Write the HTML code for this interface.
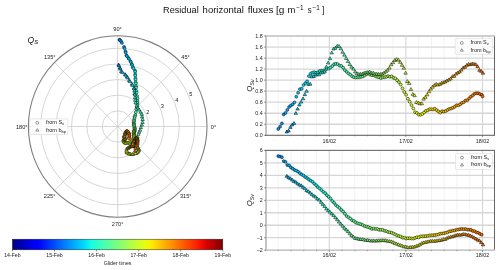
<!DOCTYPE html>
<html><head><meta charset="utf-8"><style>html,body{margin:0;padding:0;background:#fff;overflow:hidden;}svg{display:block;}</style></head><body><div style="will-change:transform">
<svg width="500" height="270" viewBox="0 0 500 270" font-family='"Liberation Sans", sans-serif'>
<rect width="500" height="270" fill="#fff"/>
<text x="163.0" y="13.0" font-size="9.5" fill="#111" textLength="35.7" lengthAdjust="spacingAndGlyphs">Residual</text>
<text x="202.6" y="13.0" font-size="9.5" fill="#111" textLength="41.3" lengthAdjust="spacingAndGlyphs">horizontal</text>
<text x="247.7" y="13.0" font-size="9.5" fill="#111" textLength="25.8" lengthAdjust="spacingAndGlyphs">fluxes</text>
<text x="275.9" y="13.0" font-size="9.5" fill="#111" textLength="8.4" lengthAdjust="spacingAndGlyphs">[g</text>
<text x="287.4" y="13.0" font-size="9.5" fill="#111" textLength="7.9" lengthAdjust="spacingAndGlyphs">m</text>
<text x="307.7" y="13.0" font-size="9.5" fill="#111" textLength="3.9" lengthAdjust="spacingAndGlyphs">s</text>
<text x="321.9" y="13.0" font-size="9.5" fill="#111" textLength="2.3" lengthAdjust="spacingAndGlyphs">]</text>
<text x="296.3" y="9.6" font-size="6.6" fill="#111" textLength="7.3" lengthAdjust="spacingAndGlyphs">−1</text>
<text x="312.5" y="9.6" font-size="6.6" fill="#111" textLength="7.3" lengthAdjust="spacingAndGlyphs">−1</text>
<g transform="translate(117.7,126.5) scale(1,1.0162)">
<circle cx="0" cy="0" r="15.40" fill="none" stroke="#c8c8c8" stroke-width="0.75"/>
<circle cx="0" cy="0" r="30.80" fill="none" stroke="#c8c8c8" stroke-width="0.75"/>
<circle cx="0" cy="0" r="46.20" fill="none" stroke="#c8c8c8" stroke-width="0.75"/>
<circle cx="0" cy="0" r="61.60" fill="none" stroke="#c8c8c8" stroke-width="0.75"/>
<circle cx="0" cy="0" r="77.00" fill="none" stroke="#c8c8c8" stroke-width="0.75"/>
<line x1="0" y1="0" x2="89.30" y2="-0.00" stroke="#c8c8c8" stroke-width="0.75"/>
<line x1="0" y1="0" x2="63.14" y2="-63.14" stroke="#c8c8c8" stroke-width="0.75"/>
<line x1="0" y1="0" x2="0.00" y2="-89.30" stroke="#c8c8c8" stroke-width="0.75"/>
<line x1="0" y1="0" x2="-63.14" y2="-63.14" stroke="#c8c8c8" stroke-width="0.75"/>
<line x1="0" y1="0" x2="-89.30" y2="-0.00" stroke="#c8c8c8" stroke-width="0.75"/>
<line x1="0" y1="0" x2="-63.14" y2="63.14" stroke="#c8c8c8" stroke-width="0.75"/>
<line x1="0" y1="0" x2="-0.00" y2="89.30" stroke="#c8c8c8" stroke-width="0.75"/>
<line x1="0" y1="0" x2="63.14" y2="63.14" stroke="#c8c8c8" stroke-width="0.75"/>
<circle cx="0" cy="0" r="89.3" fill="none" stroke="#7e7e7e" stroke-width="1.1"/>
</g>
<text x="117.6" y="31.0" font-size="5.6" fill="#222" text-anchor="middle">90°</text>
<text x="185.5" y="59.3" font-size="5.6" fill="#222" text-anchor="middle">45°</text>
<text x="49.7" y="59.4" font-size="5.6" fill="#222" text-anchor="middle">135°</text>
<text x="21.7" y="128.6" font-size="5.6" fill="#222" text-anchor="middle">180°</text>
<text x="213.5" y="128.6" font-size="5.6" fill="#222" text-anchor="middle">0°</text>
<text x="49.6" y="197.7" font-size="5.6" fill="#222" text-anchor="middle">225°</text>
<text x="117.6" y="226.0" font-size="5.6" fill="#222" text-anchor="middle">270°</text>
<text x="185.7" y="197.8" font-size="5.6" fill="#222" text-anchor="middle">315°</text>
<text x="133.5" y="119.5" font-size="5.6" fill="#222" text-anchor="middle">1</text>
<text x="147.8" y="113.7" font-size="5.6" fill="#222" text-anchor="middle">2</text>
<text x="162.3" y="107.9" font-size="5.6" fill="#222" text-anchor="middle">3</text>
<text x="176.7" y="102.1" font-size="5.6" fill="#222" text-anchor="middle">4</text>
<text x="190.8" y="96.0" font-size="5.6" fill="#222" text-anchor="middle">5</text>
<text x="27.6" y="42.6" font-size="8.6" font-style="italic" fill="#111">Q<tspan font-size="6" dy="1.5">S</tspan></text>
<circle cx="119.46" cy="39.76" r="1.45" fill="#0091ff" stroke="#000" stroke-opacity="0.95" stroke-width="0.55"/>
<circle cx="119.93" cy="40.19" r="1.45" fill="#0095ff" stroke="#000" stroke-opacity="0.95" stroke-width="0.55"/>
<circle cx="121.03" cy="41.20" r="1.45" fill="#009aff" stroke="#000" stroke-opacity="0.95" stroke-width="0.55"/>
<circle cx="121.93" cy="42.92" r="1.45" fill="#009fff" stroke="#000" stroke-opacity="0.95" stroke-width="0.55"/>
<circle cx="124.04" cy="46.95" r="1.45" fill="#00a4ff" stroke="#000" stroke-opacity="0.95" stroke-width="0.55"/>
<circle cx="124.47" cy="48.29" r="1.45" fill="#00a9ff" stroke="#000" stroke-opacity="0.95" stroke-width="0.55"/>
<circle cx="125.47" cy="51.41" r="1.45" fill="#00adff" stroke="#000" stroke-opacity="0.95" stroke-width="0.55"/>
<circle cx="125.74" cy="52.61" r="1.45" fill="#00b2ff" stroke="#000" stroke-opacity="0.95" stroke-width="0.55"/>
<circle cx="126.38" cy="55.40" r="1.45" fill="#00b7ff" stroke="#000" stroke-opacity="0.95" stroke-width="0.55"/>
<circle cx="126.98" cy="56.17" r="1.45" fill="#00bcff" stroke="#000" stroke-opacity="0.95" stroke-width="0.55"/>
<circle cx="128.37" cy="57.96" r="1.45" fill="#00c1ff" stroke="#000" stroke-opacity="0.95" stroke-width="0.55"/>
<circle cx="129.00" cy="58.92" r="1.45" fill="#00c5ff" stroke="#000" stroke-opacity="0.95" stroke-width="0.55"/>
<circle cx="130.47" cy="61.15" r="1.45" fill="#00caff" stroke="#000" stroke-opacity="0.95" stroke-width="0.55"/>
<circle cx="130.88" cy="62.05" r="1.45" fill="#00cfff" stroke="#000" stroke-opacity="0.95" stroke-width="0.55"/>
<circle cx="131.83" cy="64.16" r="1.45" fill="#00d4ff" stroke="#000" stroke-opacity="0.95" stroke-width="0.55"/>
<circle cx="132.12" cy="65.10" r="1.45" fill="#00d9ff" stroke="#000" stroke-opacity="0.95" stroke-width="0.55"/>
<circle cx="132.77" cy="67.29" r="1.45" fill="#00ddfd" stroke="#000" stroke-opacity="0.95" stroke-width="0.55"/>
<circle cx="133.46" cy="68.29" r="1.45" fill="#00e2f9" stroke="#000" stroke-opacity="0.95" stroke-width="0.55"/>
<circle cx="135.05" cy="70.61" r="1.45" fill="#01e7f6" stroke="#000" stroke-opacity="0.95" stroke-width="0.55"/>
<circle cx="135.10" cy="71.76" r="1.45" fill="#05ecf2" stroke="#000" stroke-opacity="0.95" stroke-width="0.55"/>
<circle cx="135.20" cy="74.45" r="1.45" fill="#09f1ee" stroke="#000" stroke-opacity="0.95" stroke-width="0.55"/>
<circle cx="135.26" cy="75.68" r="1.45" fill="#0df5ea" stroke="#000" stroke-opacity="0.95" stroke-width="0.55"/>
<circle cx="135.41" cy="78.56" r="1.45" fill="#11fae6" stroke="#000" stroke-opacity="0.95" stroke-width="0.55"/>
<circle cx="135.50" cy="79.70" r="1.45" fill="#15ffe2" stroke="#000" stroke-opacity="0.95" stroke-width="0.55"/>
<circle cx="135.69" cy="82.35" r="1.45" fill="#18ffde" stroke="#000" stroke-opacity="0.95" stroke-width="0.55"/>
<circle cx="135.77" cy="83.51" r="1.45" fill="#1cffdb" stroke="#000" stroke-opacity="0.95" stroke-width="0.55"/>
<circle cx="135.96" cy="86.21" r="1.45" fill="#20ffd7" stroke="#000" stroke-opacity="0.95" stroke-width="0.55"/>
<circle cx="136.09" cy="87.63" r="1.45" fill="#24ffd3" stroke="#000" stroke-opacity="0.95" stroke-width="0.55"/>
<circle cx="136.38" cy="90.93" r="1.45" fill="#28ffcf" stroke="#000" stroke-opacity="0.95" stroke-width="0.55"/>
<circle cx="136.58" cy="92.48" r="1.45" fill="#2cffcb" stroke="#000" stroke-opacity="0.95" stroke-width="0.55"/>
<circle cx="137.04" cy="96.10" r="1.45" fill="#30ffc7" stroke="#000" stroke-opacity="0.95" stroke-width="0.55"/>
<circle cx="137.41" cy="98.48" r="1.45" fill="#33ffc3" stroke="#000" stroke-opacity="0.95" stroke-width="0.55"/>
<circle cx="137.49" cy="101.25" r="1.45" fill="#37ffbf" stroke="#000" stroke-opacity="0.95" stroke-width="0.55"/>
<circle cx="137.49" cy="103.04" r="1.45" fill="#3bffbc" stroke="#000" stroke-opacity="0.95" stroke-width="0.55"/>
<circle cx="137.25" cy="104.82" r="1.45" fill="#3fffb8" stroke="#000" stroke-opacity="0.95" stroke-width="0.55"/>
<circle cx="136.91" cy="107.32" r="1.45" fill="#43ffb4" stroke="#000" stroke-opacity="0.95" stroke-width="0.55"/>
<circle cx="136.40" cy="109.25" r="1.45" fill="#47ffb0" stroke="#000" stroke-opacity="0.95" stroke-width="0.55"/>
<circle cx="135.84" cy="112.14" r="1.45" fill="#4bffac" stroke="#000" stroke-opacity="0.95" stroke-width="0.55"/>
<circle cx="135.26" cy="115.10" r="1.45" fill="#4effa8" stroke="#000" stroke-opacity="0.95" stroke-width="0.55"/>
<circle cx="134.85" cy="116.52" r="1.45" fill="#52ffa4" stroke="#000" stroke-opacity="0.95" stroke-width="0.55"/>
<circle cx="134.46" cy="118.21" r="1.45" fill="#56ffa1" stroke="#000" stroke-opacity="0.95" stroke-width="0.55"/>
<circle cx="134.20" cy="120.27" r="1.45" fill="#5aff9d" stroke="#000" stroke-opacity="0.95" stroke-width="0.55"/>
<circle cx="133.98" cy="121.20" r="1.45" fill="#5eff99" stroke="#000" stroke-opacity="0.95" stroke-width="0.55"/>
<circle cx="133.81" cy="122.97" r="1.45" fill="#62ff95" stroke="#000" stroke-opacity="0.95" stroke-width="0.55"/>
<circle cx="133.76" cy="123.93" r="1.45" fill="#66ff91" stroke="#000" stroke-opacity="0.95" stroke-width="0.55"/>
<circle cx="133.83" cy="124.59" r="1.45" fill="#6aff8d" stroke="#000" stroke-opacity="0.95" stroke-width="0.55"/>
<circle cx="134.03" cy="125.29" r="1.45" fill="#6dff89" stroke="#000" stroke-opacity="0.95" stroke-width="0.55"/>
<circle cx="134.30" cy="126.32" r="1.45" fill="#71ff85" stroke="#000" stroke-opacity="0.95" stroke-width="0.55"/>
<circle cx="134.55" cy="127.75" r="1.45" fill="#75ff82" stroke="#000" stroke-opacity="0.95" stroke-width="0.55"/>
<circle cx="134.68" cy="128.17" r="1.45" fill="#79ff7e" stroke="#000" stroke-opacity="0.95" stroke-width="0.55"/>
<circle cx="134.80" cy="128.83" r="1.45" fill="#7dff7a" stroke="#000" stroke-opacity="0.95" stroke-width="0.55"/>
<circle cx="134.76" cy="129.78" r="1.45" fill="#81ff76" stroke="#000" stroke-opacity="0.95" stroke-width="0.55"/>
<circle cx="134.63" cy="131.08" r="1.45" fill="#85ff72" stroke="#000" stroke-opacity="0.95" stroke-width="0.55"/>
<circle cx="134.49" cy="130.68" r="1.45" fill="#88ff6e" stroke="#000" stroke-opacity="0.95" stroke-width="0.55"/>
<circle cx="134.30" cy="131.26" r="1.45" fill="#8cff6a" stroke="#000" stroke-opacity="0.95" stroke-width="0.55"/>
<circle cx="134.11" cy="131.11" r="1.45" fill="#90ff67" stroke="#000" stroke-opacity="0.95" stroke-width="0.55"/>
<circle cx="133.95" cy="132.16" r="1.45" fill="#94ff63" stroke="#000" stroke-opacity="0.95" stroke-width="0.55"/>
<circle cx="133.80" cy="132.25" r="1.45" fill="#98ff5f" stroke="#000" stroke-opacity="0.95" stroke-width="0.55"/>
<circle cx="133.72" cy="132.31" r="1.45" fill="#9cff5b" stroke="#000" stroke-opacity="0.95" stroke-width="0.55"/>
<circle cx="133.83" cy="133.50" r="1.45" fill="#a0ff57" stroke="#000" stroke-opacity="0.95" stroke-width="0.55"/>
<circle cx="133.94" cy="133.83" r="1.45" fill="#a4ff53" stroke="#000" stroke-opacity="0.95" stroke-width="0.55"/>
<circle cx="134.10" cy="134.87" r="1.45" fill="#a7ff4f" stroke="#000" stroke-opacity="0.95" stroke-width="0.55"/>
<circle cx="134.18" cy="135.48" r="1.45" fill="#abff4b" stroke="#000" stroke-opacity="0.95" stroke-width="0.55"/>
<circle cx="134.02" cy="135.91" r="1.45" fill="#afff48" stroke="#000" stroke-opacity="0.95" stroke-width="0.55"/>
<circle cx="133.79" cy="136.96" r="1.45" fill="#b3ff44" stroke="#000" stroke-opacity="0.95" stroke-width="0.55"/>
<circle cx="133.45" cy="138.08" r="1.45" fill="#b7ff40" stroke="#000" stroke-opacity="0.95" stroke-width="0.55"/>
<circle cx="133.03" cy="139.19" r="1.45" fill="#bbff3c" stroke="#000" stroke-opacity="0.95" stroke-width="0.55"/>
<circle cx="132.52" cy="140.00" r="1.45" fill="#bfff38" stroke="#000" stroke-opacity="0.95" stroke-width="0.55"/>
<circle cx="131.75" cy="140.70" r="1.45" fill="#c2ff34" stroke="#000" stroke-opacity="0.95" stroke-width="0.55"/>
<circle cx="130.82" cy="142.09" r="1.45" fill="#c6ff30" stroke="#000" stroke-opacity="0.95" stroke-width="0.55"/>
<circle cx="129.79" cy="142.15" r="1.45" fill="#caff2d" stroke="#000" stroke-opacity="0.95" stroke-width="0.55"/>
<circle cx="128.95" cy="143.13" r="1.45" fill="#ceff29" stroke="#000" stroke-opacity="0.95" stroke-width="0.55"/>
<circle cx="127.97" cy="142.78" r="1.45" fill="#d2ff25" stroke="#000" stroke-opacity="0.95" stroke-width="0.55"/>
<circle cx="126.95" cy="142.79" r="1.45" fill="#d6ff21" stroke="#000" stroke-opacity="0.95" stroke-width="0.55"/>
<circle cx="126.01" cy="143.15" r="1.45" fill="#daff1d" stroke="#000" stroke-opacity="0.95" stroke-width="0.55"/>
<circle cx="125.15" cy="143.22" r="1.45" fill="#deff19" stroke="#000" stroke-opacity="0.95" stroke-width="0.55"/>
<circle cx="124.12" cy="142.48" r="1.45" fill="#e1ff15" stroke="#000" stroke-opacity="0.95" stroke-width="0.55"/>
<circle cx="123.83" cy="141.53" r="1.45" fill="#e5ff12" stroke="#000" stroke-opacity="0.95" stroke-width="0.55"/>
<circle cx="123.62" cy="141.67" r="1.45" fill="#e9ff0e" stroke="#000" stroke-opacity="0.95" stroke-width="0.55"/>
<circle cx="123.53" cy="140.44" r="1.45" fill="#edff0a" stroke="#000" stroke-opacity="0.95" stroke-width="0.55"/>
<circle cx="123.53" cy="140.38" r="1.45" fill="#f1fc06" stroke="#000" stroke-opacity="0.95" stroke-width="0.55"/>
<circle cx="124.04" cy="140.19" r="1.45" fill="#f5f802" stroke="#000" stroke-opacity="0.95" stroke-width="0.55"/>
<circle cx="124.41" cy="140.14" r="1.45" fill="#f9f300" stroke="#000" stroke-opacity="0.95" stroke-width="0.55"/>
<circle cx="124.66" cy="139.78" r="1.45" fill="#fcef00" stroke="#000" stroke-opacity="0.95" stroke-width="0.55"/>
<circle cx="124.90" cy="139.35" r="1.45" fill="#ffeb00" stroke="#000" stroke-opacity="0.95" stroke-width="0.55"/>
<circle cx="124.98" cy="138.94" r="1.45" fill="#ffe600" stroke="#000" stroke-opacity="0.95" stroke-width="0.55"/>
<circle cx="125.06" cy="139.02" r="1.45" fill="#ffe200" stroke="#000" stroke-opacity="0.95" stroke-width="0.55"/>
<circle cx="125.09" cy="138.79" r="1.45" fill="#ffdd00" stroke="#000" stroke-opacity="0.95" stroke-width="0.55"/>
<circle cx="124.76" cy="138.48" r="1.45" fill="#ffd900" stroke="#000" stroke-opacity="0.95" stroke-width="0.55"/>
<circle cx="124.39" cy="137.97" r="1.45" fill="#ffd400" stroke="#000" stroke-opacity="0.95" stroke-width="0.55"/>
<circle cx="124.09" cy="137.11" r="1.45" fill="#ffd000" stroke="#000" stroke-opacity="0.95" stroke-width="0.55"/>
<circle cx="124.26" cy="136.86" r="1.45" fill="#ffcc00" stroke="#000" stroke-opacity="0.95" stroke-width="0.55"/>
<circle cx="124.43" cy="136.61" r="1.45" fill="#ffc700" stroke="#000" stroke-opacity="0.95" stroke-width="0.55"/>
<circle cx="124.61" cy="135.89" r="1.45" fill="#ffc300" stroke="#000" stroke-opacity="0.95" stroke-width="0.55"/>
<circle cx="124.80" cy="135.39" r="1.45" fill="#ffbe00" stroke="#000" stroke-opacity="0.95" stroke-width="0.55"/>
<circle cx="125.00" cy="134.19" r="1.45" fill="#ffba00" stroke="#000" stroke-opacity="0.95" stroke-width="0.55"/>
<circle cx="125.21" cy="133.92" r="1.45" fill="#ffb500" stroke="#000" stroke-opacity="0.95" stroke-width="0.55"/>
<circle cx="125.46" cy="133.22" r="1.45" fill="#ffb100" stroke="#000" stroke-opacity="0.95" stroke-width="0.55"/>
<circle cx="125.71" cy="133.04" r="1.45" fill="#ffac00" stroke="#000" stroke-opacity="0.95" stroke-width="0.55"/>
<circle cx="125.96" cy="132.13" r="1.45" fill="#ffa800" stroke="#000" stroke-opacity="0.95" stroke-width="0.55"/>
<circle cx="126.21" cy="131.90" r="1.45" fill="#ffa400" stroke="#000" stroke-opacity="0.95" stroke-width="0.55"/>
<circle cx="126.47" cy="131.35" r="1.45" fill="#ff9f00" stroke="#000" stroke-opacity="0.95" stroke-width="0.55"/>
<circle cx="126.72" cy="131.17" r="1.45" fill="#ff9b00" stroke="#000" stroke-opacity="0.95" stroke-width="0.55"/>
<circle cx="126.96" cy="131.45" r="1.45" fill="#ff9600" stroke="#000" stroke-opacity="0.95" stroke-width="0.55"/>
<circle cx="127.25" cy="131.22" r="1.45" fill="#ff9200" stroke="#000" stroke-opacity="0.95" stroke-width="0.55"/>
<circle cx="127.68" cy="132.00" r="1.45" fill="#ff8d00" stroke="#000" stroke-opacity="0.95" stroke-width="0.55"/>
<circle cx="128.10" cy="132.06" r="1.45" fill="#ff8900" stroke="#000" stroke-opacity="0.95" stroke-width="0.55"/>
<circle cx="128.51" cy="132.28" r="1.45" fill="#ff8400" stroke="#000" stroke-opacity="0.95" stroke-width="0.55"/>
<circle cx="128.92" cy="133.67" r="1.45" fill="#ff8000" stroke="#000" stroke-opacity="0.95" stroke-width="0.55"/>
<circle cx="129.18" cy="133.94" r="1.45" fill="#ff7c00" stroke="#000" stroke-opacity="0.95" stroke-width="0.55"/>
<circle cx="129.38" cy="135.38" r="1.45" fill="#ff7700" stroke="#000" stroke-opacity="0.95" stroke-width="0.55"/>
<circle cx="129.37" cy="135.78" r="1.45" fill="#ff7300" stroke="#000" stroke-opacity="0.95" stroke-width="0.55"/>
<circle cx="129.24" cy="137.30" r="1.45" fill="#ff6e00" stroke="#000" stroke-opacity="0.95" stroke-width="0.55"/>
<circle cx="128.86" cy="138.40" r="1.45" fill="#ff6a00" stroke="#000" stroke-opacity="0.95" stroke-width="0.55"/>
<polygon points="118.54,63.05 120.25,65.96 116.83,65.96" fill="#00a7ff" stroke="#000" stroke-opacity="0.95" stroke-width="0.55"/>
<polygon points="118.95,63.96 120.66,66.88 117.24,66.88" fill="#00acff" stroke="#000" stroke-opacity="0.95" stroke-width="0.55"/>
<polygon points="119.92,66.10 121.63,69.02 118.21,69.02" fill="#00b1ff" stroke="#000" stroke-opacity="0.95" stroke-width="0.55"/>
<polygon points="120.31,67.17 122.02,70.08 118.60,70.08" fill="#00b6ff" stroke="#000" stroke-opacity="0.95" stroke-width="0.55"/>
<polygon points="121.22,69.65 122.93,72.57 119.51,72.57" fill="#00baff" stroke="#000" stroke-opacity="0.95" stroke-width="0.55"/>
<polygon points="122.37,70.53 124.08,73.44 120.66,73.44" fill="#00bfff" stroke="#000" stroke-opacity="0.95" stroke-width="0.55"/>
<polygon points="125.05,72.57 126.76,75.48 123.34,75.48" fill="#00c4ff" stroke="#000" stroke-opacity="0.95" stroke-width="0.55"/>
<polygon points="125.61,73.29 127.32,76.21 123.90,76.21" fill="#00c9ff" stroke="#000" stroke-opacity="0.95" stroke-width="0.55"/>
<polygon points="126.92,74.98 128.63,77.89 125.21,77.89" fill="#00ceff" stroke="#000" stroke-opacity="0.95" stroke-width="0.55"/>
<polygon points="127.59,76.05 129.30,78.97 125.88,78.97" fill="#00d2ff" stroke="#000" stroke-opacity="0.95" stroke-width="0.55"/>
<polygon points="129.14,78.56 130.85,81.48 127.43,81.48" fill="#00d7ff" stroke="#000" stroke-opacity="0.95" stroke-width="0.55"/>
<polygon points="129.97,79.69 131.68,82.60 128.26,82.60" fill="#00dcfe" stroke="#000" stroke-opacity="0.95" stroke-width="0.55"/>
<polygon points="131.88,82.32 133.59,85.24 130.17,85.24" fill="#00e1fb" stroke="#000" stroke-opacity="0.95" stroke-width="0.55"/>
<polygon points="132.51,83.48 134.22,86.39 130.80,86.39" fill="#00e6f7" stroke="#000" stroke-opacity="0.95" stroke-width="0.55"/>
<polygon points="133.96,86.17 135.67,89.08 132.25,89.08" fill="#04eaf3" stroke="#000" stroke-opacity="0.95" stroke-width="0.55"/>
<polygon points="134.12,87.08 135.83,90.00 132.41,90.00" fill="#08efef" stroke="#000" stroke-opacity="0.95" stroke-width="0.55"/>
<polygon points="134.47,89.21 136.18,92.12 132.76,92.12" fill="#0cf4eb" stroke="#000" stroke-opacity="0.95" stroke-width="0.55"/>
<polygon points="134.62,91.60 136.33,94.52 132.91,94.52" fill="#10f9e7" stroke="#000" stroke-opacity="0.95" stroke-width="0.55"/>
<polygon points="134.81,93.01 136.52,95.92 133.10,95.92" fill="#13fee3" stroke="#000" stroke-opacity="0.95" stroke-width="0.55"/>
<polygon points="135.01,95.83 136.72,98.74 133.30,98.74" fill="#17ffdf" stroke="#000" stroke-opacity="0.95" stroke-width="0.55"/>
<polygon points="135.22,98.42 136.93,101.33 133.51,101.33" fill="#1bffdc" stroke="#000" stroke-opacity="0.95" stroke-width="0.55"/>
<polygon points="135.58,100.99 137.29,103.90 133.87,103.90" fill="#1fffd8" stroke="#000" stroke-opacity="0.95" stroke-width="0.55"/>
<polygon points="136.74,104.06 138.45,106.98 135.03,106.98" fill="#23ffd4" stroke="#000" stroke-opacity="0.95" stroke-width="0.55"/>
<polygon points="137.94,106.15 139.65,109.07 136.23,109.07" fill="#27ffd0" stroke="#000" stroke-opacity="0.95" stroke-width="0.55"/>
<polygon points="139.25,108.10 140.96,111.02 137.54,111.02" fill="#2bffcc" stroke="#000" stroke-opacity="0.95" stroke-width="0.55"/>
<polygon points="140.60,110.33 142.31,113.25 138.89,113.25" fill="#2effc8" stroke="#000" stroke-opacity="0.95" stroke-width="0.55"/>
<polygon points="141.84,112.39 143.55,115.30 140.13,115.30" fill="#32ffc4" stroke="#000" stroke-opacity="0.95" stroke-width="0.55"/>
<polygon points="142.12,115.02 143.83,117.94 140.41,117.94" fill="#36ffc1" stroke="#000" stroke-opacity="0.95" stroke-width="0.55"/>
<polygon points="142.63,117.61 144.34,120.53 140.92,120.53" fill="#3affbd" stroke="#000" stroke-opacity="0.95" stroke-width="0.55"/>
<polygon points="142.56,120.56 144.27,123.47 140.85,123.47" fill="#3effb9" stroke="#000" stroke-opacity="0.95" stroke-width="0.55"/>
<polygon points="141.79,123.11 143.50,126.02 140.08,126.02" fill="#42ffb5" stroke="#000" stroke-opacity="0.95" stroke-width="0.55"/>
<polygon points="140.92,125.73 142.63,128.64 139.21,128.64" fill="#46ffb1" stroke="#000" stroke-opacity="0.95" stroke-width="0.55"/>
<polygon points="140.07,128.36 141.78,131.27 138.36,131.27" fill="#4affad" stroke="#000" stroke-opacity="0.95" stroke-width="0.55"/>
<polygon points="139.18,130.42 140.89,133.34 137.47,133.34" fill="#4dffa9" stroke="#000" stroke-opacity="0.95" stroke-width="0.55"/>
<polygon points="138.30,132.42 140.01,135.33 136.59,135.33" fill="#51ffa5" stroke="#000" stroke-opacity="0.95" stroke-width="0.55"/>
<polygon points="137.57,135.20 139.28,138.11 135.86,138.11" fill="#55ffa2" stroke="#000" stroke-opacity="0.95" stroke-width="0.55"/>
<polygon points="136.85,137.48 138.56,140.39 135.14,140.39" fill="#59ff9e" stroke="#000" stroke-opacity="0.95" stroke-width="0.55"/>
<polygon points="136.15,139.29 137.86,142.21 134.44,142.21" fill="#5dff9a" stroke="#000" stroke-opacity="0.95" stroke-width="0.55"/>
<polygon points="135.45,141.12 137.16,144.03 133.74,144.03" fill="#61ff96" stroke="#000" stroke-opacity="0.95" stroke-width="0.55"/>
<polygon points="134.85,141.39 136.56,144.31 133.14,144.31" fill="#65ff92" stroke="#000" stroke-opacity="0.95" stroke-width="0.55"/>
<polygon points="134.74,142.08 136.45,144.99 133.03,144.99" fill="#68ff8e" stroke="#000" stroke-opacity="0.95" stroke-width="0.55"/>
<polygon points="134.72,142.42 136.43,145.34 133.01,145.34" fill="#6cff8a" stroke="#000" stroke-opacity="0.95" stroke-width="0.55"/>
<polygon points="134.87,142.49 136.58,145.40 133.16,145.40" fill="#70ff87" stroke="#000" stroke-opacity="0.95" stroke-width="0.55"/>
<polygon points="135.02,142.96 136.73,145.88 133.31,145.88" fill="#74ff83" stroke="#000" stroke-opacity="0.95" stroke-width="0.55"/>
<polygon points="135.18,143.62 136.89,146.54 133.47,146.54" fill="#78ff7f" stroke="#000" stroke-opacity="0.95" stroke-width="0.55"/>
<polygon points="135.35,143.43 137.06,146.35 133.64,146.35" fill="#7cff7b" stroke="#000" stroke-opacity="0.95" stroke-width="0.55"/>
<polygon points="135.38,143.99 137.09,146.91 133.67,146.91" fill="#80ff77" stroke="#000" stroke-opacity="0.95" stroke-width="0.55"/>
<polygon points="135.20,144.37 136.91,147.29 133.49,147.29" fill="#84ff73" stroke="#000" stroke-opacity="0.95" stroke-width="0.55"/>
<polygon points="135.02,144.05 136.73,146.97 133.31,146.97" fill="#87ff6f" stroke="#000" stroke-opacity="0.95" stroke-width="0.55"/>
<polygon points="134.89,144.45 136.60,147.37 133.18,147.37" fill="#8bff6b" stroke="#000" stroke-opacity="0.95" stroke-width="0.55"/>
<polygon points="134.77,144.10 136.48,147.02 133.06,147.02" fill="#8fff68" stroke="#000" stroke-opacity="0.95" stroke-width="0.55"/>
<polygon points="134.73,143.93 136.44,146.85 133.02,146.85" fill="#93ff64" stroke="#000" stroke-opacity="0.95" stroke-width="0.55"/>
<polygon points="134.78,144.02 136.49,146.93 133.07,146.93" fill="#97ff60" stroke="#000" stroke-opacity="0.95" stroke-width="0.55"/>
<polygon points="134.84,143.72 136.55,146.64 133.13,146.64" fill="#9bff5c" stroke="#000" stroke-opacity="0.95" stroke-width="0.55"/>
<polygon points="135.07,143.87 136.78,146.78 133.36,146.78" fill="#9fff58" stroke="#000" stroke-opacity="0.95" stroke-width="0.55"/>
<polygon points="135.31,143.82 137.02,146.73 133.60,146.73" fill="#a2ff54" stroke="#000" stroke-opacity="0.95" stroke-width="0.55"/>
<polygon points="135.77,144.59 137.48,147.51 134.06,147.51" fill="#a6ff50" stroke="#000" stroke-opacity="0.95" stroke-width="0.55"/>
<polygon points="136.57,144.85 138.28,147.76 134.86,147.76" fill="#aaff4d" stroke="#000" stroke-opacity="0.95" stroke-width="0.55"/>
<polygon points="137.44,145.24 139.15,148.16 135.73,148.16" fill="#aeff49" stroke="#000" stroke-opacity="0.95" stroke-width="0.55"/>
<polygon points="138.09,146.14 139.80,149.05 136.38,149.05" fill="#b2ff45" stroke="#000" stroke-opacity="0.95" stroke-width="0.55"/>
<polygon points="138.79,147.33 140.50,150.24 137.08,150.24" fill="#b6ff41" stroke="#000" stroke-opacity="0.95" stroke-width="0.55"/>
<polygon points="138.94,148.16 140.65,151.08 137.23,151.08" fill="#baff3d" stroke="#000" stroke-opacity="0.95" stroke-width="0.55"/>
<polygon points="138.54,148.94 140.25,151.85 136.83,151.85" fill="#beff39" stroke="#000" stroke-opacity="0.95" stroke-width="0.55"/>
<polygon points="138.04,149.82 139.75,152.73 136.33,152.73" fill="#c1ff35" stroke="#000" stroke-opacity="0.95" stroke-width="0.55"/>
<polygon points="137.31,150.51 139.02,153.43 135.60,153.43" fill="#c5ff32" stroke="#000" stroke-opacity="0.95" stroke-width="0.55"/>
<polygon points="136.37,151.65 138.08,154.56 134.66,154.56" fill="#c9ff2e" stroke="#000" stroke-opacity="0.95" stroke-width="0.55"/>
<polygon points="135.23,151.67 136.94,154.58 133.52,154.58" fill="#cdff2a" stroke="#000" stroke-opacity="0.95" stroke-width="0.55"/>
<polygon points="132.90,152.54 134.61,155.45 131.19,155.45" fill="#d1ff26" stroke="#000" stroke-opacity="0.95" stroke-width="0.55"/>
<polygon points="132.28,152.68 133.99,155.60 130.57,155.60" fill="#d5ff22" stroke="#000" stroke-opacity="0.95" stroke-width="0.55"/>
<polygon points="130.52,152.19 132.23,155.10 128.81,155.10" fill="#d9ff1e" stroke="#000" stroke-opacity="0.95" stroke-width="0.55"/>
<polygon points="129.28,152.11 130.99,155.03 127.57,155.03" fill="#dcff1a" stroke="#000" stroke-opacity="0.95" stroke-width="0.55"/>
<polygon points="128.67,151.82 130.38,154.74 126.96,154.74" fill="#e0ff16" stroke="#000" stroke-opacity="0.95" stroke-width="0.55"/>
<polygon points="126.84,150.98 128.55,153.90 125.13,153.90" fill="#e4ff13" stroke="#000" stroke-opacity="0.95" stroke-width="0.55"/>
<polygon points="126.72,150.07 128.43,152.98 125.01,152.98" fill="#e8ff0f" stroke="#000" stroke-opacity="0.95" stroke-width="0.55"/>
<polygon points="126.61,148.97 128.32,151.88 124.90,151.88" fill="#ecff0b" stroke="#000" stroke-opacity="0.95" stroke-width="0.55"/>
<polygon points="126.54,147.30 128.25,150.22 124.83,150.22" fill="#f0fe07" stroke="#000" stroke-opacity="0.95" stroke-width="0.55"/>
<polygon points="127.70,146.54 129.41,149.46 125.99,149.46" fill="#f4f903" stroke="#000" stroke-opacity="0.95" stroke-width="0.55"/>
<polygon points="128.29,146.13 130.00,149.04 126.58,149.04" fill="#f8f500" stroke="#000" stroke-opacity="0.95" stroke-width="0.55"/>
<polygon points="128.98,145.54 130.69,148.45 127.27,148.45" fill="#fbf000" stroke="#000" stroke-opacity="0.95" stroke-width="0.55"/>
<polygon points="129.84,145.19 131.55,148.10 128.13,148.10" fill="#ffec00" stroke="#000" stroke-opacity="0.95" stroke-width="0.55"/>
<polygon points="130.51,144.52 132.22,147.44 128.80,147.44" fill="#ffe700" stroke="#000" stroke-opacity="0.95" stroke-width="0.55"/>
<polygon points="131.14,144.67 132.85,147.59 129.43,147.59" fill="#ffe300" stroke="#000" stroke-opacity="0.95" stroke-width="0.55"/>
<polygon points="131.65,144.63 133.36,147.54 129.94,147.54" fill="#ffde00" stroke="#000" stroke-opacity="0.95" stroke-width="0.55"/>
<polygon points="132.09,144.36 133.80,147.28 130.38,147.28" fill="#ffda00" stroke="#000" stroke-opacity="0.95" stroke-width="0.55"/>
<polygon points="131.87,144.07 133.58,146.99 130.16,146.99" fill="#ffd600" stroke="#000" stroke-opacity="0.95" stroke-width="0.55"/>
<polygon points="131.94,143.74 133.65,146.66 130.23,146.66" fill="#ffd100" stroke="#000" stroke-opacity="0.95" stroke-width="0.55"/>
<polygon points="132.25,143.46 133.96,146.38 130.54,146.38" fill="#ffcd00" stroke="#000" stroke-opacity="0.95" stroke-width="0.55"/>
<polygon points="132.53,142.47 134.24,145.38 130.82,145.38" fill="#ffc800" stroke="#000" stroke-opacity="0.95" stroke-width="0.55"/>
<polygon points="132.76,142.39 134.47,145.30 131.05,145.30" fill="#ffc400" stroke="#000" stroke-opacity="0.95" stroke-width="0.55"/>
<polygon points="133.00,140.96 134.71,143.88 131.29,143.88" fill="#ffbf00" stroke="#000" stroke-opacity="0.95" stroke-width="0.55"/>
<polygon points="133.32,140.06 135.03,142.97 131.61,142.97" fill="#ffbb00" stroke="#000" stroke-opacity="0.95" stroke-width="0.55"/>
<polygon points="133.64,139.33 135.35,142.24 131.93,142.24" fill="#ffb700" stroke="#000" stroke-opacity="0.95" stroke-width="0.55"/>
<polygon points="133.96,139.08 135.67,142.00 132.25,142.00" fill="#ffb200" stroke="#000" stroke-opacity="0.95" stroke-width="0.55"/>
<polygon points="134.35,138.20 136.06,141.11 132.64,141.11" fill="#ffae00" stroke="#000" stroke-opacity="0.95" stroke-width="0.55"/>
<polygon points="134.74,137.39 136.45,140.30 133.03,140.30" fill="#ffa900" stroke="#000" stroke-opacity="0.95" stroke-width="0.55"/>
<polygon points="135.14,136.78 136.85,139.70 133.43,139.70" fill="#ffa500" stroke="#000" stroke-opacity="0.95" stroke-width="0.55"/>
<polygon points="135.54,136.94 137.25,139.86 133.83,139.86" fill="#ffa000" stroke="#000" stroke-opacity="0.95" stroke-width="0.55"/>
<polygon points="136.00,136.69 137.71,139.61 134.29,139.61" fill="#ff9c00" stroke="#000" stroke-opacity="0.95" stroke-width="0.55"/>
<polygon points="136.43,135.99 138.14,138.91 134.72,138.91" fill="#ff9700" stroke="#000" stroke-opacity="0.95" stroke-width="0.55"/>
<polygon points="136.79,136.24 138.50,139.16 135.08,139.16" fill="#ff9300" stroke="#000" stroke-opacity="0.95" stroke-width="0.55"/>
<polygon points="137.13,136.78 138.84,139.70 135.42,139.70" fill="#ff8f00" stroke="#000" stroke-opacity="0.95" stroke-width="0.55"/>
<polygon points="137.46,137.12 139.17,140.04 135.75,140.04" fill="#ff8a00" stroke="#000" stroke-opacity="0.95" stroke-width="0.55"/>
<polygon points="137.57,137.99 139.28,140.91 135.86,140.91" fill="#ff8600" stroke="#000" stroke-opacity="0.95" stroke-width="0.55"/>
<polygon points="137.62,138.90 139.33,141.82 135.91,141.82" fill="#ff8100" stroke="#000" stroke-opacity="0.95" stroke-width="0.55"/>
<polygon points="137.60,140.33 139.31,143.25 135.89,143.25" fill="#ff7d00" stroke="#000" stroke-opacity="0.95" stroke-width="0.55"/>
<polygon points="137.53,141.77 139.24,144.69 135.82,144.69" fill="#ff7800" stroke="#000" stroke-opacity="0.95" stroke-width="0.55"/>
<polygon points="137.00,143.14 138.71,146.06 135.29,146.06" fill="#ff7400" stroke="#000" stroke-opacity="0.95" stroke-width="0.55"/>
<polygon points="135.97,144.04 137.68,146.96 134.26,146.96" fill="#ff7000" stroke="#000" stroke-opacity="0.95" stroke-width="0.55"/>
<polygon points="135.41,146.37 137.12,149.29 133.70,149.29" fill="#ff6b00" stroke="#000" stroke-opacity="0.95" stroke-width="0.55"/>
<polygon points="135.04,149.16 136.75,152.08 133.33,152.08" fill="#ff6700" stroke="#000" stroke-opacity="0.95" stroke-width="0.55"/>
<rect x="29.8" y="118.9" width="38.10" height="15.60" fill="#fff" fill-opacity="0.8" stroke="#d8d8d8" stroke-width="0.6" rx="0.8"/>
<circle cx="37.3" cy="122.8" r="1.45" fill="none" stroke="#333" stroke-width="0.5"/>
<polygon points="37.3,128.6 38.8,131.2 35.8,131.2" fill="none" stroke="#333" stroke-width="0.5"/>
<text x="45.9" y="124.10" font-size="5.5" fill="#1a1a1a">from S<tspan font-size="4.0" dy="1.0">v</tspan></text>
<text x="45.9" y="131.50" font-size="5.5" fill="#1a1a1a">from b<tspan font-size="4.0" dy="1.0">bp</tspan></text>
<defs><linearGradient id="jet" x1="0" x2="1" y1="0" y2="0">
<stop offset="0.000" stop-color="#000080"/>
<stop offset="0.025" stop-color="#00009c"/>
<stop offset="0.050" stop-color="#0000b9"/>
<stop offset="0.075" stop-color="#0000d6"/>
<stop offset="0.100" stop-color="#0000f3"/>
<stop offset="0.125" stop-color="#0000ff"/>
<stop offset="0.150" stop-color="#0019ff"/>
<stop offset="0.175" stop-color="#0033ff"/>
<stop offset="0.200" stop-color="#004dff"/>
<stop offset="0.225" stop-color="#0066ff"/>
<stop offset="0.250" stop-color="#0080ff"/>
<stop offset="0.275" stop-color="#0099ff"/>
<stop offset="0.300" stop-color="#00b2ff"/>
<stop offset="0.325" stop-color="#00ccff"/>
<stop offset="0.350" stop-color="#00e5f7"/>
<stop offset="0.375" stop-color="#15ffe2"/>
<stop offset="0.400" stop-color="#29ffce"/>
<stop offset="0.425" stop-color="#3effb9"/>
<stop offset="0.450" stop-color="#52ffa5"/>
<stop offset="0.475" stop-color="#67ff90"/>
<stop offset="0.500" stop-color="#7bff7b"/>
<stop offset="0.525" stop-color="#90ff67"/>
<stop offset="0.550" stop-color="#a5ff52"/>
<stop offset="0.575" stop-color="#b9ff3e"/>
<stop offset="0.600" stop-color="#ceff29"/>
<stop offset="0.625" stop-color="#e2ff15"/>
<stop offset="0.650" stop-color="#f7f600"/>
<stop offset="0.675" stop-color="#ffde00"/>
<stop offset="0.700" stop-color="#ffc600"/>
<stop offset="0.725" stop-color="#ffaf00"/>
<stop offset="0.750" stop-color="#ff9700"/>
<stop offset="0.775" stop-color="#ff8000"/>
<stop offset="0.800" stop-color="#ff6800"/>
<stop offset="0.825" stop-color="#ff5000"/>
<stop offset="0.850" stop-color="#ff3900"/>
<stop offset="0.875" stop-color="#ff2100"/>
<stop offset="0.900" stop-color="#f30900"/>
<stop offset="0.925" stop-color="#d60000"/>
<stop offset="0.950" stop-color="#b90000"/>
<stop offset="0.975" stop-color="#9c0000"/>
<stop offset="1.000" stop-color="#800000"/>
</linearGradient></defs>
<rect x="12.4" y="239.2" width="210.40" height="10.60" fill="url(#jet)" stroke="#222" stroke-width="0.5"/>
<line x1="12.40" y1="249.8" x2="12.40" y2="251.4" stroke="#222" stroke-width="0.5"/>
<text x="12.40" y="257.2" font-size="5.2" fill="#222" text-anchor="middle">14-Feb</text>
<line x1="54.48" y1="249.8" x2="54.48" y2="251.4" stroke="#222" stroke-width="0.5"/>
<text x="54.48" y="257.2" font-size="5.2" fill="#222" text-anchor="middle">15-Feb</text>
<line x1="96.56" y1="249.8" x2="96.56" y2="251.4" stroke="#222" stroke-width="0.5"/>
<text x="96.56" y="257.2" font-size="5.2" fill="#222" text-anchor="middle">16-Feb</text>
<line x1="138.64" y1="249.8" x2="138.64" y2="251.4" stroke="#222" stroke-width="0.5"/>
<text x="138.64" y="257.2" font-size="5.2" fill="#222" text-anchor="middle">17-Feb</text>
<line x1="180.72" y1="249.8" x2="180.72" y2="251.4" stroke="#222" stroke-width="0.5"/>
<text x="180.72" y="257.2" font-size="5.2" fill="#222" text-anchor="middle">18-Feb</text>
<line x1="222.80" y1="249.8" x2="222.80" y2="251.4" stroke="#222" stroke-width="0.5"/>
<text x="222.80" y="257.2" font-size="5.2" fill="#222" text-anchor="middle">19-Feb</text>
<text x="117.6" y="265.0" font-size="5.2" fill="#222" text-anchor="middle">Glider times</text>
<line x1="278.23" y1="36.0" x2="278.23" y2="135.3" stroke="#efefef" stroke-width="0.8"/>
<line x1="291.00" y1="36.0" x2="291.00" y2="135.3" stroke="#efefef" stroke-width="0.8"/>
<line x1="303.77" y1="36.0" x2="303.77" y2="135.3" stroke="#efefef" stroke-width="0.8"/>
<line x1="316.53" y1="36.0" x2="316.53" y2="135.3" stroke="#efefef" stroke-width="0.8"/>
<line x1="329.30" y1="36.0" x2="329.30" y2="135.3" stroke="#d4d4d4" stroke-width="1.1"/>
<line x1="342.07" y1="36.0" x2="342.07" y2="135.3" stroke="#efefef" stroke-width="0.8"/>
<line x1="354.83" y1="36.0" x2="354.83" y2="135.3" stroke="#efefef" stroke-width="0.8"/>
<line x1="367.60" y1="36.0" x2="367.60" y2="135.3" stroke="#efefef" stroke-width="0.8"/>
<line x1="380.37" y1="36.0" x2="380.37" y2="135.3" stroke="#efefef" stroke-width="0.8"/>
<line x1="393.13" y1="36.0" x2="393.13" y2="135.3" stroke="#efefef" stroke-width="0.8"/>
<line x1="405.90" y1="36.0" x2="405.90" y2="135.3" stroke="#d4d4d4" stroke-width="1.1"/>
<line x1="418.67" y1="36.0" x2="418.67" y2="135.3" stroke="#efefef" stroke-width="0.8"/>
<line x1="431.43" y1="36.0" x2="431.43" y2="135.3" stroke="#efefef" stroke-width="0.8"/>
<line x1="444.20" y1="36.0" x2="444.20" y2="135.3" stroke="#efefef" stroke-width="0.8"/>
<line x1="456.97" y1="36.0" x2="456.97" y2="135.3" stroke="#efefef" stroke-width="0.8"/>
<line x1="469.73" y1="36.0" x2="469.73" y2="135.3" stroke="#efefef" stroke-width="0.8"/>
<line x1="482.50" y1="36.0" x2="482.50" y2="135.3" stroke="#d4d4d4" stroke-width="1.1"/>
<line x1="266.0" y1="135.30" x2="494.5" y2="135.30" stroke="#d6d6d6" stroke-width="1.3"/>
<line x1="266.0" y1="124.27" x2="494.5" y2="124.27" stroke="#d6d6d6" stroke-width="1.3"/>
<line x1="266.0" y1="113.23" x2="494.5" y2="113.23" stroke="#d6d6d6" stroke-width="1.3"/>
<line x1="266.0" y1="102.20" x2="494.5" y2="102.20" stroke="#d6d6d6" stroke-width="1.3"/>
<line x1="266.0" y1="91.17" x2="494.5" y2="91.17" stroke="#d6d6d6" stroke-width="1.3"/>
<line x1="266.0" y1="80.13" x2="494.5" y2="80.13" stroke="#d6d6d6" stroke-width="1.3"/>
<line x1="266.0" y1="69.10" x2="494.5" y2="69.10" stroke="#d6d6d6" stroke-width="1.3"/>
<line x1="266.0" y1="58.07" x2="494.5" y2="58.07" stroke="#d6d6d6" stroke-width="1.3"/>
<line x1="266.0" y1="47.03" x2="494.5" y2="47.03" stroke="#d6d6d6" stroke-width="1.3"/>
<line x1="266.0" y1="36.00" x2="494.5" y2="36.00" stroke="#d6d6d6" stroke-width="1.3"/>
<circle cx="278.30" cy="128.96" r="1.45" fill="#0091ff" stroke="#000" stroke-opacity="0.95" stroke-width="0.55"/>
<circle cx="280.10" cy="126.67" r="1.45" fill="#0095ff" stroke="#000" stroke-opacity="0.95" stroke-width="0.55"/>
<circle cx="281.90" cy="123.43" r="1.45" fill="#009aff" stroke="#000" stroke-opacity="0.95" stroke-width="0.55"/>
<circle cx="283.70" cy="114.53" r="1.45" fill="#009fff" stroke="#000" stroke-opacity="0.95" stroke-width="0.55"/>
<circle cx="285.50" cy="112.99" r="1.45" fill="#00a4ff" stroke="#000" stroke-opacity="0.95" stroke-width="0.55"/>
<circle cx="287.30" cy="109.94" r="1.45" fill="#00a9ff" stroke="#000" stroke-opacity="0.95" stroke-width="0.55"/>
<circle cx="289.10" cy="107.02" r="1.45" fill="#00adff" stroke="#000" stroke-opacity="0.95" stroke-width="0.55"/>
<circle cx="290.90" cy="105.46" r="1.45" fill="#00b2ff" stroke="#000" stroke-opacity="0.95" stroke-width="0.55"/>
<circle cx="292.70" cy="104.40" r="1.45" fill="#00b7ff" stroke="#000" stroke-opacity="0.95" stroke-width="0.55"/>
<circle cx="294.50" cy="102.36" r="1.45" fill="#00bcff" stroke="#000" stroke-opacity="0.95" stroke-width="0.55"/>
<circle cx="296.30" cy="96.76" r="1.45" fill="#00c1ff" stroke="#000" stroke-opacity="0.95" stroke-width="0.55"/>
<circle cx="298.10" cy="92.87" r="1.45" fill="#00c5ff" stroke="#000" stroke-opacity="0.95" stroke-width="0.55"/>
<circle cx="299.90" cy="89.17" r="1.45" fill="#00caff" stroke="#000" stroke-opacity="0.95" stroke-width="0.55"/>
<circle cx="301.70" cy="88.71" r="1.45" fill="#00cfff" stroke="#000" stroke-opacity="0.95" stroke-width="0.55"/>
<circle cx="303.50" cy="85.10" r="1.45" fill="#00d4ff" stroke="#000" stroke-opacity="0.95" stroke-width="0.55"/>
<circle cx="305.30" cy="83.24" r="1.45" fill="#00d9ff" stroke="#000" stroke-opacity="0.95" stroke-width="0.55"/>
<circle cx="307.10" cy="81.34" r="1.45" fill="#00ddfd" stroke="#000" stroke-opacity="0.95" stroke-width="0.55"/>
<circle cx="308.90" cy="76.16" r="1.45" fill="#00e2f9" stroke="#000" stroke-opacity="0.95" stroke-width="0.55"/>
<circle cx="310.70" cy="73.70" r="1.45" fill="#01e7f6" stroke="#000" stroke-opacity="0.95" stroke-width="0.55"/>
<circle cx="312.50" cy="72.61" r="1.45" fill="#05ecf2" stroke="#000" stroke-opacity="0.95" stroke-width="0.55"/>
<circle cx="314.30" cy="72.21" r="1.45" fill="#09f1ee" stroke="#000" stroke-opacity="0.95" stroke-width="0.55"/>
<circle cx="316.10" cy="72.72" r="1.45" fill="#0df5ea" stroke="#000" stroke-opacity="0.95" stroke-width="0.55"/>
<circle cx="317.90" cy="72.34" r="1.45" fill="#11fae6" stroke="#000" stroke-opacity="0.95" stroke-width="0.55"/>
<circle cx="319.70" cy="70.98" r="1.45" fill="#15ffe2" stroke="#000" stroke-opacity="0.95" stroke-width="0.55"/>
<circle cx="321.50" cy="70.78" r="1.45" fill="#18ffde" stroke="#000" stroke-opacity="0.95" stroke-width="0.55"/>
<circle cx="323.30" cy="70.65" r="1.45" fill="#1cffdb" stroke="#000" stroke-opacity="0.95" stroke-width="0.55"/>
<circle cx="325.10" cy="70.31" r="1.45" fill="#20ffd7" stroke="#000" stroke-opacity="0.95" stroke-width="0.55"/>
<circle cx="326.90" cy="68.88" r="1.45" fill="#24ffd3" stroke="#000" stroke-opacity="0.95" stroke-width="0.55"/>
<circle cx="328.70" cy="68.57" r="1.45" fill="#28ffcf" stroke="#000" stroke-opacity="0.95" stroke-width="0.55"/>
<circle cx="330.50" cy="67.60" r="1.45" fill="#2cffcb" stroke="#000" stroke-opacity="0.95" stroke-width="0.55"/>
<circle cx="332.30" cy="66.07" r="1.45" fill="#30ffc7" stroke="#000" stroke-opacity="0.95" stroke-width="0.55"/>
<circle cx="334.10" cy="64.29" r="1.45" fill="#33ffc3" stroke="#000" stroke-opacity="0.95" stroke-width="0.55"/>
<circle cx="335.90" cy="63.84" r="1.45" fill="#37ffbf" stroke="#000" stroke-opacity="0.95" stroke-width="0.55"/>
<circle cx="337.70" cy="64.14" r="1.45" fill="#3bffbc" stroke="#000" stroke-opacity="0.95" stroke-width="0.55"/>
<circle cx="339.50" cy="65.64" r="1.45" fill="#3fffb8" stroke="#000" stroke-opacity="0.95" stroke-width="0.55"/>
<circle cx="341.30" cy="65.95" r="1.45" fill="#43ffb4" stroke="#000" stroke-opacity="0.95" stroke-width="0.55"/>
<circle cx="343.10" cy="67.71" r="1.45" fill="#47ffb0" stroke="#000" stroke-opacity="0.95" stroke-width="0.55"/>
<circle cx="344.90" cy="70.17" r="1.45" fill="#4bffac" stroke="#000" stroke-opacity="0.95" stroke-width="0.55"/>
<circle cx="346.70" cy="71.88" r="1.45" fill="#4effa8" stroke="#000" stroke-opacity="0.95" stroke-width="0.55"/>
<circle cx="348.50" cy="73.45" r="1.45" fill="#52ffa4" stroke="#000" stroke-opacity="0.95" stroke-width="0.55"/>
<circle cx="350.30" cy="74.68" r="1.45" fill="#56ffa1" stroke="#000" stroke-opacity="0.95" stroke-width="0.55"/>
<circle cx="352.10" cy="76.21" r="1.45" fill="#5aff9d" stroke="#000" stroke-opacity="0.95" stroke-width="0.55"/>
<circle cx="353.90" cy="77.23" r="1.45" fill="#5eff99" stroke="#000" stroke-opacity="0.95" stroke-width="0.55"/>
<circle cx="355.70" cy="77.49" r="1.45" fill="#62ff95" stroke="#000" stroke-opacity="0.95" stroke-width="0.55"/>
<circle cx="357.50" cy="77.34" r="1.45" fill="#66ff91" stroke="#000" stroke-opacity="0.95" stroke-width="0.55"/>
<circle cx="359.30" cy="77.30" r="1.45" fill="#6aff8d" stroke="#000" stroke-opacity="0.95" stroke-width="0.55"/>
<circle cx="361.10" cy="76.91" r="1.45" fill="#6dff89" stroke="#000" stroke-opacity="0.95" stroke-width="0.55"/>
<circle cx="362.90" cy="76.35" r="1.45" fill="#71ff85" stroke="#000" stroke-opacity="0.95" stroke-width="0.55"/>
<circle cx="364.70" cy="75.52" r="1.45" fill="#75ff82" stroke="#000" stroke-opacity="0.95" stroke-width="0.55"/>
<circle cx="366.50" cy="74.18" r="1.45" fill="#79ff7e" stroke="#000" stroke-opacity="0.95" stroke-width="0.55"/>
<circle cx="368.30" cy="73.46" r="1.45" fill="#7dff7a" stroke="#000" stroke-opacity="0.95" stroke-width="0.55"/>
<circle cx="370.10" cy="74.60" r="1.45" fill="#81ff76" stroke="#000" stroke-opacity="0.95" stroke-width="0.55"/>
<circle cx="371.90" cy="75.16" r="1.45" fill="#85ff72" stroke="#000" stroke-opacity="0.95" stroke-width="0.55"/>
<circle cx="373.70" cy="75.10" r="1.45" fill="#88ff6e" stroke="#000" stroke-opacity="0.95" stroke-width="0.55"/>
<circle cx="375.50" cy="76.16" r="1.45" fill="#8cff6a" stroke="#000" stroke-opacity="0.95" stroke-width="0.55"/>
<circle cx="377.30" cy="76.95" r="1.45" fill="#90ff67" stroke="#000" stroke-opacity="0.95" stroke-width="0.55"/>
<circle cx="379.10" cy="77.22" r="1.45" fill="#94ff63" stroke="#000" stroke-opacity="0.95" stroke-width="0.55"/>
<circle cx="380.90" cy="78.06" r="1.45" fill="#98ff5f" stroke="#000" stroke-opacity="0.95" stroke-width="0.55"/>
<circle cx="382.70" cy="77.33" r="1.45" fill="#9cff5b" stroke="#000" stroke-opacity="0.95" stroke-width="0.55"/>
<circle cx="384.50" cy="77.25" r="1.45" fill="#a0ff57" stroke="#000" stroke-opacity="0.95" stroke-width="0.55"/>
<circle cx="386.30" cy="76.87" r="1.45" fill="#a4ff53" stroke="#000" stroke-opacity="0.95" stroke-width="0.55"/>
<circle cx="388.10" cy="76.08" r="1.45" fill="#a7ff4f" stroke="#000" stroke-opacity="0.95" stroke-width="0.55"/>
<circle cx="389.90" cy="76.75" r="1.45" fill="#abff4b" stroke="#000" stroke-opacity="0.95" stroke-width="0.55"/>
<circle cx="391.70" cy="76.28" r="1.45" fill="#afff48" stroke="#000" stroke-opacity="0.95" stroke-width="0.55"/>
<circle cx="393.50" cy="77.87" r="1.45" fill="#b3ff44" stroke="#000" stroke-opacity="0.95" stroke-width="0.55"/>
<circle cx="395.30" cy="78.35" r="1.45" fill="#b7ff40" stroke="#000" stroke-opacity="0.95" stroke-width="0.55"/>
<circle cx="397.10" cy="80.23" r="1.45" fill="#bbff3c" stroke="#000" stroke-opacity="0.95" stroke-width="0.55"/>
<circle cx="398.90" cy="82.10" r="1.45" fill="#bfff38" stroke="#000" stroke-opacity="0.95" stroke-width="0.55"/>
<circle cx="400.70" cy="84.60" r="1.45" fill="#c2ff34" stroke="#000" stroke-opacity="0.95" stroke-width="0.55"/>
<circle cx="402.50" cy="88.34" r="1.45" fill="#c6ff30" stroke="#000" stroke-opacity="0.95" stroke-width="0.55"/>
<circle cx="404.30" cy="92.04" r="1.45" fill="#caff2d" stroke="#000" stroke-opacity="0.95" stroke-width="0.55"/>
<circle cx="406.10" cy="94.78" r="1.45" fill="#ceff29" stroke="#000" stroke-opacity="0.95" stroke-width="0.55"/>
<circle cx="407.90" cy="98.79" r="1.45" fill="#d2ff25" stroke="#000" stroke-opacity="0.95" stroke-width="0.55"/>
<circle cx="409.70" cy="101.76" r="1.45" fill="#d6ff21" stroke="#000" stroke-opacity="0.95" stroke-width="0.55"/>
<circle cx="411.50" cy="105.15" r="1.45" fill="#daff1d" stroke="#000" stroke-opacity="0.95" stroke-width="0.55"/>
<circle cx="413.30" cy="108.44" r="1.45" fill="#deff19" stroke="#000" stroke-opacity="0.95" stroke-width="0.55"/>
<circle cx="415.10" cy="112.15" r="1.45" fill="#e1ff15" stroke="#000" stroke-opacity="0.95" stroke-width="0.55"/>
<circle cx="416.90" cy="113.00" r="1.45" fill="#e5ff12" stroke="#000" stroke-opacity="0.95" stroke-width="0.55"/>
<circle cx="418.70" cy="114.59" r="1.45" fill="#e9ff0e" stroke="#000" stroke-opacity="0.95" stroke-width="0.55"/>
<circle cx="420.50" cy="114.82" r="1.45" fill="#edff0a" stroke="#000" stroke-opacity="0.95" stroke-width="0.55"/>
<circle cx="422.30" cy="113.93" r="1.45" fill="#f1fc06" stroke="#000" stroke-opacity="0.95" stroke-width="0.55"/>
<circle cx="424.10" cy="112.44" r="1.45" fill="#f5f802" stroke="#000" stroke-opacity="0.95" stroke-width="0.55"/>
<circle cx="425.90" cy="110.94" r="1.45" fill="#f9f300" stroke="#000" stroke-opacity="0.95" stroke-width="0.55"/>
<circle cx="427.70" cy="110.32" r="1.45" fill="#fcef00" stroke="#000" stroke-opacity="0.95" stroke-width="0.55"/>
<circle cx="429.50" cy="109.23" r="1.45" fill="#ffeb00" stroke="#000" stroke-opacity="0.95" stroke-width="0.55"/>
<circle cx="431.30" cy="109.23" r="1.45" fill="#ffe600" stroke="#000" stroke-opacity="0.95" stroke-width="0.55"/>
<circle cx="433.10" cy="109.45" r="1.45" fill="#ffe200" stroke="#000" stroke-opacity="0.95" stroke-width="0.55"/>
<circle cx="434.90" cy="108.69" r="1.45" fill="#ffdd00" stroke="#000" stroke-opacity="0.95" stroke-width="0.55"/>
<circle cx="436.70" cy="110.18" r="1.45" fill="#ffd900" stroke="#000" stroke-opacity="0.95" stroke-width="0.55"/>
<circle cx="438.50" cy="111.46" r="1.45" fill="#ffd400" stroke="#000" stroke-opacity="0.95" stroke-width="0.55"/>
<circle cx="440.30" cy="112.70" r="1.45" fill="#ffd000" stroke="#000" stroke-opacity="0.95" stroke-width="0.55"/>
<circle cx="442.10" cy="111.27" r="1.45" fill="#ffcc00" stroke="#000" stroke-opacity="0.95" stroke-width="0.55"/>
<circle cx="443.90" cy="111.49" r="1.45" fill="#ffc700" stroke="#000" stroke-opacity="0.95" stroke-width="0.55"/>
<circle cx="445.70" cy="111.08" r="1.45" fill="#ffc300" stroke="#000" stroke-opacity="0.95" stroke-width="0.55"/>
<circle cx="447.50" cy="109.97" r="1.45" fill="#ffbe00" stroke="#000" stroke-opacity="0.95" stroke-width="0.55"/>
<circle cx="449.30" cy="108.91" r="1.45" fill="#ffba00" stroke="#000" stroke-opacity="0.95" stroke-width="0.55"/>
<circle cx="451.10" cy="108.61" r="1.45" fill="#ffb500" stroke="#000" stroke-opacity="0.95" stroke-width="0.55"/>
<circle cx="452.90" cy="107.75" r="1.45" fill="#ffb100" stroke="#000" stroke-opacity="0.95" stroke-width="0.55"/>
<circle cx="454.70" cy="106.79" r="1.45" fill="#ffac00" stroke="#000" stroke-opacity="0.95" stroke-width="0.55"/>
<circle cx="456.50" cy="105.28" r="1.45" fill="#ffa800" stroke="#000" stroke-opacity="0.95" stroke-width="0.55"/>
<circle cx="458.30" cy="105.37" r="1.45" fill="#ffa400" stroke="#000" stroke-opacity="0.95" stroke-width="0.55"/>
<circle cx="460.10" cy="104.45" r="1.45" fill="#ff9f00" stroke="#000" stroke-opacity="0.95" stroke-width="0.55"/>
<circle cx="461.90" cy="102.91" r="1.45" fill="#ff9b00" stroke="#000" stroke-opacity="0.95" stroke-width="0.55"/>
<circle cx="463.70" cy="102.24" r="1.45" fill="#ff9600" stroke="#000" stroke-opacity="0.95" stroke-width="0.55"/>
<circle cx="465.50" cy="100.53" r="1.45" fill="#ff9200" stroke="#000" stroke-opacity="0.95" stroke-width="0.55"/>
<circle cx="467.30" cy="100.14" r="1.45" fill="#ff8d00" stroke="#000" stroke-opacity="0.95" stroke-width="0.55"/>
<circle cx="469.10" cy="98.42" r="1.45" fill="#ff8900" stroke="#000" stroke-opacity="0.95" stroke-width="0.55"/>
<circle cx="470.90" cy="96.73" r="1.45" fill="#ff8400" stroke="#000" stroke-opacity="0.95" stroke-width="0.55"/>
<circle cx="472.70" cy="95.42" r="1.45" fill="#ff8000" stroke="#000" stroke-opacity="0.95" stroke-width="0.55"/>
<circle cx="474.50" cy="93.81" r="1.45" fill="#ff7c00" stroke="#000" stroke-opacity="0.95" stroke-width="0.55"/>
<circle cx="476.30" cy="93.25" r="1.45" fill="#ff7700" stroke="#000" stroke-opacity="0.95" stroke-width="0.55"/>
<circle cx="478.10" cy="93.19" r="1.45" fill="#ff7300" stroke="#000" stroke-opacity="0.95" stroke-width="0.55"/>
<circle cx="479.90" cy="94.09" r="1.45" fill="#ff6e00" stroke="#000" stroke-opacity="0.95" stroke-width="0.55"/>
<circle cx="481.70" cy="94.82" r="1.45" fill="#ff6a00" stroke="#000" stroke-opacity="0.95" stroke-width="0.55"/>
<circle cx="482.60" cy="96.47" r="1.45" fill="#ff6800" stroke="#000" stroke-opacity="0.95" stroke-width="0.55"/>
<polygon points="286.80,129.99 288.51,132.91 285.09,132.91" fill="#00a7ff" stroke="#000" stroke-opacity="0.95" stroke-width="0.55"/>
<polygon points="288.60,129.04 290.31,131.95 286.89,131.95" fill="#00acff" stroke="#000" stroke-opacity="0.95" stroke-width="0.55"/>
<polygon points="290.40,125.47 292.11,128.39 288.69,128.39" fill="#00b1ff" stroke="#000" stroke-opacity="0.95" stroke-width="0.55"/>
<polygon points="292.20,122.97 293.91,125.88 290.49,125.88" fill="#00b6ff" stroke="#000" stroke-opacity="0.95" stroke-width="0.55"/>
<polygon points="294.00,121.47 295.71,124.39 292.29,124.39" fill="#00baff" stroke="#000" stroke-opacity="0.95" stroke-width="0.55"/>
<polygon points="295.80,111.46 297.51,114.37 294.09,114.37" fill="#00bfff" stroke="#000" stroke-opacity="0.95" stroke-width="0.55"/>
<polygon points="297.60,107.17 299.31,110.08 295.89,110.08" fill="#00c4ff" stroke="#000" stroke-opacity="0.95" stroke-width="0.55"/>
<polygon points="299.40,103.04 301.11,105.95 297.69,105.95" fill="#00c9ff" stroke="#000" stroke-opacity="0.95" stroke-width="0.55"/>
<polygon points="301.20,100.19 302.91,103.10 299.49,103.10" fill="#00ceff" stroke="#000" stroke-opacity="0.95" stroke-width="0.55"/>
<polygon points="303.00,96.88 304.71,99.80 301.29,99.80" fill="#00d2ff" stroke="#000" stroke-opacity="0.95" stroke-width="0.55"/>
<polygon points="304.80,92.72 306.51,95.63 303.09,95.63" fill="#00d7ff" stroke="#000" stroke-opacity="0.95" stroke-width="0.55"/>
<polygon points="306.60,89.34 308.31,92.25 304.89,92.25" fill="#00dcfe" stroke="#000" stroke-opacity="0.95" stroke-width="0.55"/>
<polygon points="308.40,82.56 310.11,85.47 306.69,85.47" fill="#00e1fb" stroke="#000" stroke-opacity="0.95" stroke-width="0.55"/>
<polygon points="310.20,82.26 311.91,85.18 308.49,85.18" fill="#00e6f7" stroke="#000" stroke-opacity="0.95" stroke-width="0.55"/>
<polygon points="312.00,74.99 313.71,77.90 310.29,77.90" fill="#04eaf3" stroke="#000" stroke-opacity="0.95" stroke-width="0.55"/>
<polygon points="313.80,74.54 315.51,77.45 312.09,77.45" fill="#08efef" stroke="#000" stroke-opacity="0.95" stroke-width="0.55"/>
<polygon points="315.60,73.08 317.31,76.00 313.89,76.00" fill="#0cf4eb" stroke="#000" stroke-opacity="0.95" stroke-width="0.55"/>
<polygon points="317.40,72.82 319.11,75.74 315.69,75.74" fill="#10f9e7" stroke="#000" stroke-opacity="0.95" stroke-width="0.55"/>
<polygon points="319.20,72.73 320.91,75.64 317.49,75.64" fill="#13fee3" stroke="#000" stroke-opacity="0.95" stroke-width="0.55"/>
<polygon points="321.00,70.91 322.71,73.82 319.29,73.82" fill="#17ffdf" stroke="#000" stroke-opacity="0.95" stroke-width="0.55"/>
<polygon points="322.80,70.86 324.51,73.78 321.09,73.78" fill="#1bffdc" stroke="#000" stroke-opacity="0.95" stroke-width="0.55"/>
<polygon points="324.60,69.99 326.31,72.91 322.89,72.91" fill="#1fffd8" stroke="#000" stroke-opacity="0.95" stroke-width="0.55"/>
<polygon points="326.40,64.98 328.11,67.90 324.69,67.90" fill="#23ffd4" stroke="#000" stroke-opacity="0.95" stroke-width="0.55"/>
<polygon points="328.20,61.06 329.91,63.97 326.49,63.97" fill="#27ffd0" stroke="#000" stroke-opacity="0.95" stroke-width="0.55"/>
<polygon points="330.00,56.78 331.71,59.70 328.29,59.70" fill="#2bffcc" stroke="#000" stroke-opacity="0.95" stroke-width="0.55"/>
<polygon points="331.80,51.03 333.51,53.95 330.09,53.95" fill="#2effc8" stroke="#000" stroke-opacity="0.95" stroke-width="0.55"/>
<polygon points="333.60,47.07 335.31,49.99 331.89,49.99" fill="#32ffc4" stroke="#000" stroke-opacity="0.95" stroke-width="0.55"/>
<polygon points="335.40,46.31 337.11,49.23 333.69,49.23" fill="#36ffc1" stroke="#000" stroke-opacity="0.95" stroke-width="0.55"/>
<polygon points="337.20,44.40 338.91,47.32 335.49,47.32" fill="#3affbd" stroke="#000" stroke-opacity="0.95" stroke-width="0.55"/>
<polygon points="339.00,44.41 340.71,47.33 337.29,47.33" fill="#3effb9" stroke="#000" stroke-opacity="0.95" stroke-width="0.55"/>
<polygon points="340.80,46.86 342.51,49.78 339.09,49.78" fill="#42ffb5" stroke="#000" stroke-opacity="0.95" stroke-width="0.55"/>
<polygon points="342.60,50.32 344.31,53.23 340.89,53.23" fill="#46ffb1" stroke="#000" stroke-opacity="0.95" stroke-width="0.55"/>
<polygon points="344.40,53.23 346.11,56.15 342.69,56.15" fill="#4affad" stroke="#000" stroke-opacity="0.95" stroke-width="0.55"/>
<polygon points="346.20,56.52 347.91,59.43 344.49,59.43" fill="#4dffa9" stroke="#000" stroke-opacity="0.95" stroke-width="0.55"/>
<polygon points="348.00,59.53 349.71,62.45 346.29,62.45" fill="#51ffa5" stroke="#000" stroke-opacity="0.95" stroke-width="0.55"/>
<polygon points="349.80,62.71 351.51,65.63 348.09,65.63" fill="#55ffa2" stroke="#000" stroke-opacity="0.95" stroke-width="0.55"/>
<polygon points="351.60,65.22 353.31,68.14 349.89,68.14" fill="#59ff9e" stroke="#000" stroke-opacity="0.95" stroke-width="0.55"/>
<polygon points="353.40,67.18 355.11,70.10 351.69,70.10" fill="#5dff9a" stroke="#000" stroke-opacity="0.95" stroke-width="0.55"/>
<polygon points="355.20,70.00 356.91,72.92 353.49,72.92" fill="#61ff96" stroke="#000" stroke-opacity="0.95" stroke-width="0.55"/>
<polygon points="357.00,71.79 358.71,74.71 355.29,74.71" fill="#65ff92" stroke="#000" stroke-opacity="0.95" stroke-width="0.55"/>
<polygon points="358.80,72.39 360.51,75.30 357.09,75.30" fill="#68ff8e" stroke="#000" stroke-opacity="0.95" stroke-width="0.55"/>
<polygon points="360.60,72.35 362.31,75.26 358.89,75.26" fill="#6cff8a" stroke="#000" stroke-opacity="0.95" stroke-width="0.55"/>
<polygon points="362.40,72.18 364.11,75.10 360.69,75.10" fill="#70ff87" stroke="#000" stroke-opacity="0.95" stroke-width="0.55"/>
<polygon points="364.20,71.30 365.91,74.22 362.49,74.22" fill="#74ff83" stroke="#000" stroke-opacity="0.95" stroke-width="0.55"/>
<polygon points="366.00,70.82 367.71,73.73 364.29,73.73" fill="#78ff7f" stroke="#000" stroke-opacity="0.95" stroke-width="0.55"/>
<polygon points="367.80,70.53 369.51,73.45 366.09,73.45" fill="#7cff7b" stroke="#000" stroke-opacity="0.95" stroke-width="0.55"/>
<polygon points="369.60,70.05 371.31,72.97 367.89,72.97" fill="#80ff77" stroke="#000" stroke-opacity="0.95" stroke-width="0.55"/>
<polygon points="371.40,71.30 373.11,74.21 369.69,74.21" fill="#84ff73" stroke="#000" stroke-opacity="0.95" stroke-width="0.55"/>
<polygon points="373.20,71.08 374.91,74.00 371.49,74.00" fill="#87ff6f" stroke="#000" stroke-opacity="0.95" stroke-width="0.55"/>
<polygon points="375.00,72.20 376.71,75.12 373.29,75.12" fill="#8bff6b" stroke="#000" stroke-opacity="0.95" stroke-width="0.55"/>
<polygon points="376.80,72.26 378.51,75.18 375.09,75.18" fill="#8fff68" stroke="#000" stroke-opacity="0.95" stroke-width="0.55"/>
<polygon points="378.60,72.42 380.31,75.34 376.89,75.34" fill="#93ff64" stroke="#000" stroke-opacity="0.95" stroke-width="0.55"/>
<polygon points="380.40,72.47 382.11,75.38 378.69,75.38" fill="#97ff60" stroke="#000" stroke-opacity="0.95" stroke-width="0.55"/>
<polygon points="382.20,72.13 383.91,75.04 380.49,75.04" fill="#9bff5c" stroke="#000" stroke-opacity="0.95" stroke-width="0.55"/>
<polygon points="384.00,71.16 385.71,74.08 382.29,74.08" fill="#9fff58" stroke="#000" stroke-opacity="0.95" stroke-width="0.55"/>
<polygon points="385.80,69.83 387.51,72.74 384.09,72.74" fill="#a2ff54" stroke="#000" stroke-opacity="0.95" stroke-width="0.55"/>
<polygon points="387.60,68.29 389.31,71.21 385.89,71.21" fill="#a6ff50" stroke="#000" stroke-opacity="0.95" stroke-width="0.55"/>
<polygon points="389.40,66.15 391.11,69.07 387.69,69.07" fill="#aaff4d" stroke="#000" stroke-opacity="0.95" stroke-width="0.55"/>
<polygon points="391.20,62.82 392.91,65.74 389.49,65.74" fill="#aeff49" stroke="#000" stroke-opacity="0.95" stroke-width="0.55"/>
<polygon points="393.00,60.69 394.71,63.61 391.29,63.61" fill="#b2ff45" stroke="#000" stroke-opacity="0.95" stroke-width="0.55"/>
<polygon points="394.80,58.51 396.51,61.42 393.09,61.42" fill="#b6ff41" stroke="#000" stroke-opacity="0.95" stroke-width="0.55"/>
<polygon points="396.60,57.63 398.31,60.55 394.89,60.55" fill="#baff3d" stroke="#000" stroke-opacity="0.95" stroke-width="0.55"/>
<polygon points="398.40,58.30 400.11,61.21 396.69,61.21" fill="#beff39" stroke="#000" stroke-opacity="0.95" stroke-width="0.55"/>
<polygon points="400.20,60.43 401.91,63.34 398.49,63.34" fill="#c1ff35" stroke="#000" stroke-opacity="0.95" stroke-width="0.55"/>
<polygon points="402.00,63.37 403.71,66.28 400.29,66.28" fill="#c5ff32" stroke="#000" stroke-opacity="0.95" stroke-width="0.55"/>
<polygon points="403.80,66.29 405.51,69.21 402.09,69.21" fill="#c9ff2e" stroke="#000" stroke-opacity="0.95" stroke-width="0.55"/>
<polygon points="405.60,71.26 407.31,74.17 403.89,74.17" fill="#cdff2a" stroke="#000" stroke-opacity="0.95" stroke-width="0.55"/>
<polygon points="407.40,79.58 409.11,82.50 405.69,82.50" fill="#d1ff26" stroke="#000" stroke-opacity="0.95" stroke-width="0.55"/>
<polygon points="409.20,81.67 410.91,84.59 407.49,84.59" fill="#d5ff22" stroke="#000" stroke-opacity="0.95" stroke-width="0.55"/>
<polygon points="411.00,87.56 412.71,90.47 409.29,90.47" fill="#d9ff1e" stroke="#000" stroke-opacity="0.95" stroke-width="0.55"/>
<polygon points="412.80,92.42 414.51,95.33 411.09,95.33" fill="#dcff1a" stroke="#000" stroke-opacity="0.95" stroke-width="0.55"/>
<polygon points="414.60,93.76 416.31,96.67 412.89,96.67" fill="#e0ff16" stroke="#000" stroke-opacity="0.95" stroke-width="0.55"/>
<polygon points="416.40,100.54 418.11,103.46 414.69,103.46" fill="#e4ff13" stroke="#000" stroke-opacity="0.95" stroke-width="0.55"/>
<polygon points="418.20,101.15 419.91,104.07 416.49,104.07" fill="#e8ff0f" stroke="#000" stroke-opacity="0.95" stroke-width="0.55"/>
<polygon points="420.00,101.86 421.71,104.78 418.29,104.78" fill="#ecff0b" stroke="#000" stroke-opacity="0.95" stroke-width="0.55"/>
<polygon points="421.80,101.81 423.51,104.73 420.09,104.73" fill="#f0fe07" stroke="#000" stroke-opacity="0.95" stroke-width="0.55"/>
<polygon points="423.60,97.23 425.31,100.14 421.89,100.14" fill="#f4f903" stroke="#000" stroke-opacity="0.95" stroke-width="0.55"/>
<polygon points="425.40,95.38 427.11,98.30 423.69,98.30" fill="#f8f500" stroke="#000" stroke-opacity="0.95" stroke-width="0.55"/>
<polygon points="427.20,92.88 428.91,95.80 425.49,95.80" fill="#fbf000" stroke="#000" stroke-opacity="0.95" stroke-width="0.55"/>
<polygon points="429.00,89.78 430.71,92.70 427.29,92.70" fill="#ffec00" stroke="#000" stroke-opacity="0.95" stroke-width="0.55"/>
<polygon points="430.80,87.22 432.51,90.14 429.09,90.14" fill="#ffe700" stroke="#000" stroke-opacity="0.95" stroke-width="0.55"/>
<polygon points="432.60,85.26 434.31,88.18 430.89,88.18" fill="#ffe300" stroke="#000" stroke-opacity="0.95" stroke-width="0.55"/>
<polygon points="434.40,83.48 436.11,86.40 432.69,86.40" fill="#ffde00" stroke="#000" stroke-opacity="0.95" stroke-width="0.55"/>
<polygon points="436.20,82.29 437.91,85.21 434.49,85.21" fill="#ffda00" stroke="#000" stroke-opacity="0.95" stroke-width="0.55"/>
<polygon points="438.00,83.08 439.71,85.99 436.29,85.99" fill="#ffd600" stroke="#000" stroke-opacity="0.95" stroke-width="0.55"/>
<polygon points="439.80,82.53 441.51,85.45 438.09,85.45" fill="#ffd100" stroke="#000" stroke-opacity="0.95" stroke-width="0.55"/>
<polygon points="441.60,81.32 443.31,84.24 439.89,84.24" fill="#ffcd00" stroke="#000" stroke-opacity="0.95" stroke-width="0.55"/>
<polygon points="443.40,80.71 445.11,83.63 441.69,83.63" fill="#ffc800" stroke="#000" stroke-opacity="0.95" stroke-width="0.55"/>
<polygon points="445.20,80.00 446.91,82.92 443.49,82.92" fill="#ffc400" stroke="#000" stroke-opacity="0.95" stroke-width="0.55"/>
<polygon points="447.00,78.91 448.71,81.83 445.29,81.83" fill="#ffbf00" stroke="#000" stroke-opacity="0.95" stroke-width="0.55"/>
<polygon points="448.80,77.92 450.51,80.83 447.09,80.83" fill="#ffbb00" stroke="#000" stroke-opacity="0.95" stroke-width="0.55"/>
<polygon points="450.60,76.94 452.31,79.86 448.89,79.86" fill="#ffb700" stroke="#000" stroke-opacity="0.95" stroke-width="0.55"/>
<polygon points="452.40,74.69 454.11,77.61 450.69,77.61" fill="#ffb200" stroke="#000" stroke-opacity="0.95" stroke-width="0.55"/>
<polygon points="454.20,74.30 455.91,77.21 452.49,77.21" fill="#ffae00" stroke="#000" stroke-opacity="0.95" stroke-width="0.55"/>
<polygon points="456.00,72.18 457.71,75.09 454.29,75.09" fill="#ffa900" stroke="#000" stroke-opacity="0.95" stroke-width="0.55"/>
<polygon points="457.80,71.00 459.51,73.92 456.09,73.92" fill="#ffa500" stroke="#000" stroke-opacity="0.95" stroke-width="0.55"/>
<polygon points="459.60,69.97 461.31,72.88 457.89,72.88" fill="#ffa000" stroke="#000" stroke-opacity="0.95" stroke-width="0.55"/>
<polygon points="461.40,68.21 463.11,71.12 459.69,71.12" fill="#ff9c00" stroke="#000" stroke-opacity="0.95" stroke-width="0.55"/>
<polygon points="463.20,65.97 464.91,68.89 461.49,68.89" fill="#ff9700" stroke="#000" stroke-opacity="0.95" stroke-width="0.55"/>
<polygon points="465.00,65.32 466.71,68.24 463.29,68.24" fill="#ff9300" stroke="#000" stroke-opacity="0.95" stroke-width="0.55"/>
<polygon points="466.80,63.38 468.51,66.30 465.09,66.30" fill="#ff8f00" stroke="#000" stroke-opacity="0.95" stroke-width="0.55"/>
<polygon points="468.60,62.53 470.31,65.44 466.89,65.44" fill="#ff8a00" stroke="#000" stroke-opacity="0.95" stroke-width="0.55"/>
<polygon points="470.40,62.71 472.11,65.62 468.69,65.62" fill="#ff8600" stroke="#000" stroke-opacity="0.95" stroke-width="0.55"/>
<polygon points="472.20,62.05 473.91,64.96 470.49,64.96" fill="#ff8100" stroke="#000" stroke-opacity="0.95" stroke-width="0.55"/>
<polygon points="474.00,62.32 475.71,65.23 472.29,65.23" fill="#ff7d00" stroke="#000" stroke-opacity="0.95" stroke-width="0.55"/>
<polygon points="475.80,62.74 477.51,65.66 474.09,65.66" fill="#ff7800" stroke="#000" stroke-opacity="0.95" stroke-width="0.55"/>
<polygon points="477.60,64.73 479.31,67.65 475.89,67.65" fill="#ff7400" stroke="#000" stroke-opacity="0.95" stroke-width="0.55"/>
<polygon points="479.40,68.37 481.11,71.29 477.69,71.29" fill="#ff7000" stroke="#000" stroke-opacity="0.95" stroke-width="0.55"/>
<polygon points="481.20,69.45 482.91,72.37 479.49,72.37" fill="#ff6b00" stroke="#000" stroke-opacity="0.95" stroke-width="0.55"/>
<polygon points="483.00,71.27 484.71,74.19 481.29,74.19" fill="#ff6700" stroke="#000" stroke-opacity="0.95" stroke-width="0.55"/>
<line x1="266.0" y1="36.0" x2="266.0" y2="135.3" stroke="#c4c4c4" stroke-width="2"/>
<line x1="494.5" y1="36.0" x2="494.5" y2="135.3" stroke="#666" stroke-width="1"/>
<line x1="265.0" y1="36.0" x2="495.0" y2="36.0" stroke="#c8c8c8" stroke-width="1.6"/>
<line x1="265.0" y1="135.3" x2="495.0" y2="135.3" stroke="#666" stroke-width="1.0"/>
<line x1="264.2" y1="135.30" x2="266.0" y2="135.30" stroke="#444" stroke-width="0.6"/>
<text x="262.8" y="137.20" font-size="5.4" fill="#222" text-anchor="end">0.0</text>
<line x1="264.2" y1="124.27" x2="266.0" y2="124.27" stroke="#444" stroke-width="0.6"/>
<text x="262.8" y="126.17" font-size="5.4" fill="#222" text-anchor="end">0.2</text>
<line x1="264.2" y1="113.23" x2="266.0" y2="113.23" stroke="#444" stroke-width="0.6"/>
<text x="262.8" y="115.13" font-size="5.4" fill="#222" text-anchor="end">0.4</text>
<line x1="264.2" y1="102.20" x2="266.0" y2="102.20" stroke="#444" stroke-width="0.6"/>
<text x="262.8" y="104.10" font-size="5.4" fill="#222" text-anchor="end">0.6</text>
<line x1="264.2" y1="91.17" x2="266.0" y2="91.17" stroke="#444" stroke-width="0.6"/>
<text x="262.8" y="93.07" font-size="5.4" fill="#222" text-anchor="end">0.8</text>
<line x1="264.2" y1="80.13" x2="266.0" y2="80.13" stroke="#444" stroke-width="0.6"/>
<text x="262.8" y="82.03" font-size="5.4" fill="#222" text-anchor="end">1.0</text>
<line x1="264.2" y1="69.10" x2="266.0" y2="69.10" stroke="#444" stroke-width="0.6"/>
<text x="262.8" y="71.00" font-size="5.4" fill="#222" text-anchor="end">1.2</text>
<line x1="264.2" y1="58.07" x2="266.0" y2="58.07" stroke="#444" stroke-width="0.6"/>
<text x="262.8" y="59.97" font-size="5.4" fill="#222" text-anchor="end">1.4</text>
<line x1="264.2" y1="47.03" x2="266.0" y2="47.03" stroke="#444" stroke-width="0.6"/>
<text x="262.8" y="48.93" font-size="5.4" fill="#222" text-anchor="end">1.6</text>
<line x1="264.2" y1="36.00" x2="266.0" y2="36.00" stroke="#444" stroke-width="0.6"/>
<text x="262.8" y="37.90" font-size="5.4" fill="#222" text-anchor="end">1.8</text>
<line x1="278.23" y1="135.3" x2="278.23" y2="136.3" stroke="#444" stroke-width="0.5"/>
<line x1="291.00" y1="135.3" x2="291.00" y2="136.3" stroke="#444" stroke-width="0.5"/>
<line x1="303.77" y1="135.3" x2="303.77" y2="136.3" stroke="#444" stroke-width="0.5"/>
<line x1="316.53" y1="135.3" x2="316.53" y2="136.3" stroke="#444" stroke-width="0.5"/>
<line x1="329.30" y1="135.3" x2="329.30" y2="137.10000000000002" stroke="#444" stroke-width="0.6"/>
<text x="329.30" y="142.7" font-size="5.4" fill="#222" text-anchor="middle">16/02</text>
<line x1="342.07" y1="135.3" x2="342.07" y2="136.3" stroke="#444" stroke-width="0.5"/>
<line x1="354.83" y1="135.3" x2="354.83" y2="136.3" stroke="#444" stroke-width="0.5"/>
<line x1="367.60" y1="135.3" x2="367.60" y2="136.3" stroke="#444" stroke-width="0.5"/>
<line x1="380.37" y1="135.3" x2="380.37" y2="136.3" stroke="#444" stroke-width="0.5"/>
<line x1="393.13" y1="135.3" x2="393.13" y2="136.3" stroke="#444" stroke-width="0.5"/>
<line x1="405.90" y1="135.3" x2="405.90" y2="137.10000000000002" stroke="#444" stroke-width="0.6"/>
<text x="405.90" y="142.7" font-size="5.4" fill="#222" text-anchor="middle">17/02</text>
<line x1="418.67" y1="135.3" x2="418.67" y2="136.3" stroke="#444" stroke-width="0.5"/>
<line x1="431.43" y1="135.3" x2="431.43" y2="136.3" stroke="#444" stroke-width="0.5"/>
<line x1="444.20" y1="135.3" x2="444.20" y2="136.3" stroke="#444" stroke-width="0.5"/>
<line x1="456.97" y1="135.3" x2="456.97" y2="136.3" stroke="#444" stroke-width="0.5"/>
<line x1="469.73" y1="135.3" x2="469.73" y2="136.3" stroke="#444" stroke-width="0.5"/>
<line x1="482.50" y1="135.3" x2="482.50" y2="137.10000000000002" stroke="#444" stroke-width="0.6"/>
<text x="482.50" y="142.7" font-size="5.4" fill="#222" text-anchor="middle">18/02</text>
<text transform="translate(251.6,85.6) rotate(-90)" font-size="7.8" font-style="italic" fill="#111" text-anchor="middle">Q<tspan font-size="5.0" dy="1.9">Su</tspan></text>
<rect x="455.2" y="38.6" width="37.10" height="15.70" fill="#fff" fill-opacity="0.8" stroke="#d8d8d8" stroke-width="0.6" rx="0.8"/>
<circle cx="461.8" cy="42.9" r="1.45" fill="none" stroke="#333" stroke-width="0.5"/>
<polygon points="461.8,48.6 463.3,51.2 460.3,51.2" fill="none" stroke="#333" stroke-width="0.5"/>
<text x="470.6" y="44.20" font-size="5.5" fill="#1a1a1a">from S<tspan font-size="4.0" dy="1.0">v</tspan></text>
<text x="470.6" y="51.50" font-size="5.5" fill="#1a1a1a">from b<tspan font-size="4.0" dy="1.0">bp</tspan></text>
<line x1="278.23" y1="150.4" x2="278.23" y2="250.2" stroke="#efefef" stroke-width="0.8"/>
<line x1="291.00" y1="150.4" x2="291.00" y2="250.2" stroke="#efefef" stroke-width="0.8"/>
<line x1="303.77" y1="150.4" x2="303.77" y2="250.2" stroke="#efefef" stroke-width="0.8"/>
<line x1="316.53" y1="150.4" x2="316.53" y2="250.2" stroke="#efefef" stroke-width="0.8"/>
<line x1="329.30" y1="150.4" x2="329.30" y2="250.2" stroke="#d4d4d4" stroke-width="1.1"/>
<line x1="342.07" y1="150.4" x2="342.07" y2="250.2" stroke="#efefef" stroke-width="0.8"/>
<line x1="354.83" y1="150.4" x2="354.83" y2="250.2" stroke="#efefef" stroke-width="0.8"/>
<line x1="367.60" y1="150.4" x2="367.60" y2="250.2" stroke="#efefef" stroke-width="0.8"/>
<line x1="380.37" y1="150.4" x2="380.37" y2="250.2" stroke="#efefef" stroke-width="0.8"/>
<line x1="393.13" y1="150.4" x2="393.13" y2="250.2" stroke="#efefef" stroke-width="0.8"/>
<line x1="405.90" y1="150.4" x2="405.90" y2="250.2" stroke="#d4d4d4" stroke-width="1.1"/>
<line x1="418.67" y1="150.4" x2="418.67" y2="250.2" stroke="#efefef" stroke-width="0.8"/>
<line x1="431.43" y1="150.4" x2="431.43" y2="250.2" stroke="#efefef" stroke-width="0.8"/>
<line x1="444.20" y1="150.4" x2="444.20" y2="250.2" stroke="#efefef" stroke-width="0.8"/>
<line x1="456.97" y1="150.4" x2="456.97" y2="250.2" stroke="#efefef" stroke-width="0.8"/>
<line x1="469.73" y1="150.4" x2="469.73" y2="250.2" stroke="#efefef" stroke-width="0.8"/>
<line x1="482.50" y1="150.4" x2="482.50" y2="250.2" stroke="#d4d4d4" stroke-width="1.1"/>
<line x1="266.0" y1="250.20" x2="494.5" y2="250.20" stroke="#d6d6d6" stroke-width="1.3"/>
<line x1="266.0" y1="237.72" x2="494.5" y2="237.72" stroke="#d6d6d6" stroke-width="1.3"/>
<line x1="266.0" y1="225.25" x2="494.5" y2="225.25" stroke="#d6d6d6" stroke-width="1.3"/>
<line x1="266.0" y1="212.77" x2="494.5" y2="212.77" stroke="#d6d6d6" stroke-width="1.3"/>
<line x1="266.0" y1="200.30" x2="494.5" y2="200.30" stroke="#d6d6d6" stroke-width="1.3"/>
<line x1="266.0" y1="187.82" x2="494.5" y2="187.82" stroke="#d6d6d6" stroke-width="1.3"/>
<line x1="266.0" y1="175.35" x2="494.5" y2="175.35" stroke="#d6d6d6" stroke-width="1.3"/>
<line x1="266.0" y1="162.88" x2="494.5" y2="162.88" stroke="#d6d6d6" stroke-width="1.3"/>
<line x1="266.0" y1="150.40" x2="494.5" y2="150.40" stroke="#d6d6d6" stroke-width="1.3"/>
<circle cx="278.30" cy="156.11" r="1.45" fill="#0091ff" stroke="#000" stroke-opacity="0.95" stroke-width="0.55"/>
<circle cx="280.10" cy="156.48" r="1.45" fill="#0095ff" stroke="#000" stroke-opacity="0.95" stroke-width="0.55"/>
<circle cx="281.90" cy="157.25" r="1.45" fill="#009aff" stroke="#000" stroke-opacity="0.95" stroke-width="0.55"/>
<circle cx="283.70" cy="161.12" r="1.45" fill="#009fff" stroke="#000" stroke-opacity="0.95" stroke-width="0.55"/>
<circle cx="285.50" cy="161.84" r="1.45" fill="#00a4ff" stroke="#000" stroke-opacity="0.95" stroke-width="0.55"/>
<circle cx="287.30" cy="165.08" r="1.45" fill="#00a9ff" stroke="#000" stroke-opacity="0.95" stroke-width="0.55"/>
<circle cx="289.10" cy="165.39" r="1.45" fill="#00adff" stroke="#000" stroke-opacity="0.95" stroke-width="0.55"/>
<circle cx="290.90" cy="167.46" r="1.45" fill="#00b2ff" stroke="#000" stroke-opacity="0.95" stroke-width="0.55"/>
<circle cx="292.70" cy="168.57" r="1.45" fill="#00b7ff" stroke="#000" stroke-opacity="0.95" stroke-width="0.55"/>
<circle cx="294.50" cy="169.98" r="1.45" fill="#00bcff" stroke="#000" stroke-opacity="0.95" stroke-width="0.55"/>
<circle cx="296.30" cy="170.62" r="1.45" fill="#00c1ff" stroke="#000" stroke-opacity="0.95" stroke-width="0.55"/>
<circle cx="298.10" cy="171.70" r="1.45" fill="#00c5ff" stroke="#000" stroke-opacity="0.95" stroke-width="0.55"/>
<circle cx="299.90" cy="173.16" r="1.45" fill="#00caff" stroke="#000" stroke-opacity="0.95" stroke-width="0.55"/>
<circle cx="301.70" cy="174.56" r="1.45" fill="#00cfff" stroke="#000" stroke-opacity="0.95" stroke-width="0.55"/>
<circle cx="303.50" cy="175.56" r="1.45" fill="#00d4ff" stroke="#000" stroke-opacity="0.95" stroke-width="0.55"/>
<circle cx="305.30" cy="177.11" r="1.45" fill="#00d9ff" stroke="#000" stroke-opacity="0.95" stroke-width="0.55"/>
<circle cx="307.10" cy="178.05" r="1.45" fill="#00ddfd" stroke="#000" stroke-opacity="0.95" stroke-width="0.55"/>
<circle cx="308.90" cy="179.54" r="1.45" fill="#00e2f9" stroke="#000" stroke-opacity="0.95" stroke-width="0.55"/>
<circle cx="310.70" cy="180.70" r="1.45" fill="#01e7f6" stroke="#000" stroke-opacity="0.95" stroke-width="0.55"/>
<circle cx="312.50" cy="181.81" r="1.45" fill="#05ecf2" stroke="#000" stroke-opacity="0.95" stroke-width="0.55"/>
<circle cx="314.30" cy="183.76" r="1.45" fill="#09f1ee" stroke="#000" stroke-opacity="0.95" stroke-width="0.55"/>
<circle cx="316.10" cy="185.18" r="1.45" fill="#0df5ea" stroke="#000" stroke-opacity="0.95" stroke-width="0.55"/>
<circle cx="317.90" cy="187.04" r="1.45" fill="#11fae6" stroke="#000" stroke-opacity="0.95" stroke-width="0.55"/>
<circle cx="319.70" cy="188.51" r="1.45" fill="#15ffe2" stroke="#000" stroke-opacity="0.95" stroke-width="0.55"/>
<circle cx="321.50" cy="190.06" r="1.45" fill="#18ffde" stroke="#000" stroke-opacity="0.95" stroke-width="0.55"/>
<circle cx="323.30" cy="191.92" r="1.45" fill="#1cffdb" stroke="#000" stroke-opacity="0.95" stroke-width="0.55"/>
<circle cx="325.10" cy="193.13" r="1.45" fill="#20ffd7" stroke="#000" stroke-opacity="0.95" stroke-width="0.55"/>
<circle cx="326.90" cy="195.23" r="1.45" fill="#24ffd3" stroke="#000" stroke-opacity="0.95" stroke-width="0.55"/>
<circle cx="328.70" cy="196.90" r="1.45" fill="#28ffcf" stroke="#000" stroke-opacity="0.95" stroke-width="0.55"/>
<circle cx="330.50" cy="198.58" r="1.45" fill="#2cffcb" stroke="#000" stroke-opacity="0.95" stroke-width="0.55"/>
<circle cx="332.30" cy="201.02" r="1.45" fill="#30ffc7" stroke="#000" stroke-opacity="0.95" stroke-width="0.55"/>
<circle cx="334.10" cy="202.92" r="1.45" fill="#33ffc3" stroke="#000" stroke-opacity="0.95" stroke-width="0.55"/>
<circle cx="335.90" cy="205.12" r="1.45" fill="#37ffbf" stroke="#000" stroke-opacity="0.95" stroke-width="0.55"/>
<circle cx="337.70" cy="206.55" r="1.45" fill="#3bffbc" stroke="#000" stroke-opacity="0.95" stroke-width="0.55"/>
<circle cx="339.50" cy="207.96" r="1.45" fill="#3fffb8" stroke="#000" stroke-opacity="0.95" stroke-width="0.55"/>
<circle cx="341.30" cy="209.96" r="1.45" fill="#43ffb4" stroke="#000" stroke-opacity="0.95" stroke-width="0.55"/>
<circle cx="343.10" cy="211.50" r="1.45" fill="#47ffb0" stroke="#000" stroke-opacity="0.95" stroke-width="0.55"/>
<circle cx="344.90" cy="213.80" r="1.45" fill="#4bffac" stroke="#000" stroke-opacity="0.95" stroke-width="0.55"/>
<circle cx="346.70" cy="216.16" r="1.45" fill="#4effa8" stroke="#000" stroke-opacity="0.95" stroke-width="0.55"/>
<circle cx="348.50" cy="217.30" r="1.45" fill="#52ffa4" stroke="#000" stroke-opacity="0.95" stroke-width="0.55"/>
<circle cx="350.30" cy="218.64" r="1.45" fill="#56ffa1" stroke="#000" stroke-opacity="0.95" stroke-width="0.55"/>
<circle cx="352.10" cy="220.29" r="1.45" fill="#5aff9d" stroke="#000" stroke-opacity="0.95" stroke-width="0.55"/>
<circle cx="353.90" cy="221.03" r="1.45" fill="#5eff99" stroke="#000" stroke-opacity="0.95" stroke-width="0.55"/>
<circle cx="355.70" cy="222.44" r="1.45" fill="#62ff95" stroke="#000" stroke-opacity="0.95" stroke-width="0.55"/>
<circle cx="357.50" cy="223.20" r="1.45" fill="#66ff91" stroke="#000" stroke-opacity="0.95" stroke-width="0.55"/>
<circle cx="359.30" cy="223.73" r="1.45" fill="#6aff8d" stroke="#000" stroke-opacity="0.95" stroke-width="0.55"/>
<circle cx="361.10" cy="224.28" r="1.45" fill="#6dff89" stroke="#000" stroke-opacity="0.95" stroke-width="0.55"/>
<circle cx="362.90" cy="225.11" r="1.45" fill="#71ff85" stroke="#000" stroke-opacity="0.95" stroke-width="0.55"/>
<circle cx="364.70" cy="226.24" r="1.45" fill="#75ff82" stroke="#000" stroke-opacity="0.95" stroke-width="0.55"/>
<circle cx="366.50" cy="226.58" r="1.45" fill="#79ff7e" stroke="#000" stroke-opacity="0.95" stroke-width="0.55"/>
<circle cx="368.30" cy="227.11" r="1.45" fill="#7dff7a" stroke="#000" stroke-opacity="0.95" stroke-width="0.55"/>
<circle cx="370.10" cy="227.87" r="1.45" fill="#81ff76" stroke="#000" stroke-opacity="0.95" stroke-width="0.55"/>
<circle cx="371.90" cy="228.90" r="1.45" fill="#85ff72" stroke="#000" stroke-opacity="0.95" stroke-width="0.55"/>
<circle cx="373.70" cy="228.58" r="1.45" fill="#88ff6e" stroke="#000" stroke-opacity="0.95" stroke-width="0.55"/>
<circle cx="375.50" cy="229.04" r="1.45" fill="#8cff6a" stroke="#000" stroke-opacity="0.95" stroke-width="0.55"/>
<circle cx="377.30" cy="228.92" r="1.45" fill="#90ff67" stroke="#000" stroke-opacity="0.95" stroke-width="0.55"/>
<circle cx="379.10" cy="229.76" r="1.45" fill="#94ff63" stroke="#000" stroke-opacity="0.95" stroke-width="0.55"/>
<circle cx="380.90" cy="229.84" r="1.45" fill="#98ff5f" stroke="#000" stroke-opacity="0.95" stroke-width="0.55"/>
<circle cx="382.70" cy="229.88" r="1.45" fill="#9cff5b" stroke="#000" stroke-opacity="0.95" stroke-width="0.55"/>
<circle cx="384.50" cy="230.83" r="1.45" fill="#a0ff57" stroke="#000" stroke-opacity="0.95" stroke-width="0.55"/>
<circle cx="386.30" cy="231.09" r="1.45" fill="#a4ff53" stroke="#000" stroke-opacity="0.95" stroke-width="0.55"/>
<circle cx="388.10" cy="231.92" r="1.45" fill="#a7ff4f" stroke="#000" stroke-opacity="0.95" stroke-width="0.55"/>
<circle cx="389.90" cy="232.41" r="1.45" fill="#abff4b" stroke="#000" stroke-opacity="0.95" stroke-width="0.55"/>
<circle cx="391.70" cy="232.75" r="1.45" fill="#afff48" stroke="#000" stroke-opacity="0.95" stroke-width="0.55"/>
<circle cx="393.50" cy="233.59" r="1.45" fill="#b3ff44" stroke="#000" stroke-opacity="0.95" stroke-width="0.55"/>
<circle cx="395.30" cy="234.48" r="1.45" fill="#b7ff40" stroke="#000" stroke-opacity="0.95" stroke-width="0.55"/>
<circle cx="397.10" cy="235.36" r="1.45" fill="#bbff3c" stroke="#000" stroke-opacity="0.95" stroke-width="0.55"/>
<circle cx="398.90" cy="236.01" r="1.45" fill="#bfff38" stroke="#000" stroke-opacity="0.95" stroke-width="0.55"/>
<circle cx="400.70" cy="236.57" r="1.45" fill="#c2ff34" stroke="#000" stroke-opacity="0.95" stroke-width="0.55"/>
<circle cx="402.50" cy="237.68" r="1.45" fill="#c6ff30" stroke="#000" stroke-opacity="0.95" stroke-width="0.55"/>
<circle cx="404.30" cy="237.72" r="1.45" fill="#caff2d" stroke="#000" stroke-opacity="0.95" stroke-width="0.55"/>
<circle cx="406.10" cy="238.50" r="1.45" fill="#ceff29" stroke="#000" stroke-opacity="0.95" stroke-width="0.55"/>
<circle cx="407.90" cy="238.22" r="1.45" fill="#d2ff25" stroke="#000" stroke-opacity="0.95" stroke-width="0.55"/>
<circle cx="409.70" cy="238.24" r="1.45" fill="#d6ff21" stroke="#000" stroke-opacity="0.95" stroke-width="0.55"/>
<circle cx="411.50" cy="238.52" r="1.45" fill="#daff1d" stroke="#000" stroke-opacity="0.95" stroke-width="0.55"/>
<circle cx="413.30" cy="238.58" r="1.45" fill="#deff19" stroke="#000" stroke-opacity="0.95" stroke-width="0.55"/>
<circle cx="415.10" cy="237.99" r="1.45" fill="#e1ff15" stroke="#000" stroke-opacity="0.95" stroke-width="0.55"/>
<circle cx="416.90" cy="237.23" r="1.45" fill="#e5ff12" stroke="#000" stroke-opacity="0.95" stroke-width="0.55"/>
<circle cx="418.70" cy="237.35" r="1.45" fill="#e9ff0e" stroke="#000" stroke-opacity="0.95" stroke-width="0.55"/>
<circle cx="420.50" cy="236.36" r="1.45" fill="#edff0a" stroke="#000" stroke-opacity="0.95" stroke-width="0.55"/>
<circle cx="422.30" cy="236.32" r="1.45" fill="#f1fc06" stroke="#000" stroke-opacity="0.95" stroke-width="0.55"/>
<circle cx="424.10" cy="236.16" r="1.45" fill="#f5f802" stroke="#000" stroke-opacity="0.95" stroke-width="0.55"/>
<circle cx="425.90" cy="236.12" r="1.45" fill="#f9f300" stroke="#000" stroke-opacity="0.95" stroke-width="0.55"/>
<circle cx="427.70" cy="235.84" r="1.45" fill="#fcef00" stroke="#000" stroke-opacity="0.95" stroke-width="0.55"/>
<circle cx="429.50" cy="235.50" r="1.45" fill="#ffeb00" stroke="#000" stroke-opacity="0.95" stroke-width="0.55"/>
<circle cx="431.30" cy="235.17" r="1.45" fill="#ffe600" stroke="#000" stroke-opacity="0.95" stroke-width="0.55"/>
<circle cx="433.10" cy="235.23" r="1.45" fill="#ffe200" stroke="#000" stroke-opacity="0.95" stroke-width="0.55"/>
<circle cx="434.90" cy="235.05" r="1.45" fill="#ffdd00" stroke="#000" stroke-opacity="0.95" stroke-width="0.55"/>
<circle cx="436.70" cy="234.80" r="1.45" fill="#ffd900" stroke="#000" stroke-opacity="0.95" stroke-width="0.55"/>
<circle cx="438.50" cy="234.39" r="1.45" fill="#ffd400" stroke="#000" stroke-opacity="0.95" stroke-width="0.55"/>
<circle cx="440.30" cy="233.71" r="1.45" fill="#ffd000" stroke="#000" stroke-opacity="0.95" stroke-width="0.55"/>
<circle cx="442.10" cy="233.51" r="1.45" fill="#ffcc00" stroke="#000" stroke-opacity="0.95" stroke-width="0.55"/>
<circle cx="443.90" cy="233.31" r="1.45" fill="#ffc700" stroke="#000" stroke-opacity="0.95" stroke-width="0.55"/>
<circle cx="445.70" cy="232.74" r="1.45" fill="#ffc300" stroke="#000" stroke-opacity="0.95" stroke-width="0.55"/>
<circle cx="447.50" cy="232.33" r="1.45" fill="#ffbe00" stroke="#000" stroke-opacity="0.95" stroke-width="0.55"/>
<circle cx="449.30" cy="231.38" r="1.45" fill="#ffba00" stroke="#000" stroke-opacity="0.95" stroke-width="0.55"/>
<circle cx="451.10" cy="231.17" r="1.45" fill="#ffb500" stroke="#000" stroke-opacity="0.95" stroke-width="0.55"/>
<circle cx="452.90" cy="230.61" r="1.45" fill="#ffb100" stroke="#000" stroke-opacity="0.95" stroke-width="0.55"/>
<circle cx="454.70" cy="230.47" r="1.45" fill="#ffac00" stroke="#000" stroke-opacity="0.95" stroke-width="0.55"/>
<circle cx="456.50" cy="229.74" r="1.45" fill="#ffa800" stroke="#000" stroke-opacity="0.95" stroke-width="0.55"/>
<circle cx="458.30" cy="229.55" r="1.45" fill="#ffa400" stroke="#000" stroke-opacity="0.95" stroke-width="0.55"/>
<circle cx="460.10" cy="229.12" r="1.45" fill="#ff9f00" stroke="#000" stroke-opacity="0.95" stroke-width="0.55"/>
<circle cx="461.90" cy="228.97" r="1.45" fill="#ff9b00" stroke="#000" stroke-opacity="0.95" stroke-width="0.55"/>
<circle cx="463.70" cy="229.20" r="1.45" fill="#ff9600" stroke="#000" stroke-opacity="0.95" stroke-width="0.55"/>
<circle cx="465.50" cy="229.01" r="1.45" fill="#ff9200" stroke="#000" stroke-opacity="0.95" stroke-width="0.55"/>
<circle cx="467.30" cy="229.63" r="1.45" fill="#ff8d00" stroke="#000" stroke-opacity="0.95" stroke-width="0.55"/>
<circle cx="469.10" cy="229.68" r="1.45" fill="#ff8900" stroke="#000" stroke-opacity="0.95" stroke-width="0.55"/>
<circle cx="470.90" cy="229.85" r="1.45" fill="#ff8400" stroke="#000" stroke-opacity="0.95" stroke-width="0.55"/>
<circle cx="472.70" cy="230.97" r="1.45" fill="#ff8000" stroke="#000" stroke-opacity="0.95" stroke-width="0.55"/>
<circle cx="474.50" cy="231.18" r="1.45" fill="#ff7c00" stroke="#000" stroke-opacity="0.95" stroke-width="0.55"/>
<circle cx="476.30" cy="232.33" r="1.45" fill="#ff7700" stroke="#000" stroke-opacity="0.95" stroke-width="0.55"/>
<circle cx="478.10" cy="232.65" r="1.45" fill="#ff7300" stroke="#000" stroke-opacity="0.95" stroke-width="0.55"/>
<circle cx="479.90" cy="233.86" r="1.45" fill="#ff6e00" stroke="#000" stroke-opacity="0.95" stroke-width="0.55"/>
<circle cx="481.70" cy="234.73" r="1.45" fill="#ff6a00" stroke="#000" stroke-opacity="0.95" stroke-width="0.55"/>
<polygon points="286.80,174.31 288.51,177.22 285.09,177.22" fill="#00a7ff" stroke="#000" stroke-opacity="0.95" stroke-width="0.55"/>
<polygon points="288.60,175.84 290.31,178.75 286.89,178.75" fill="#00acff" stroke="#000" stroke-opacity="0.95" stroke-width="0.55"/>
<polygon points="290.40,176.74 292.11,179.66 288.69,179.66" fill="#00b1ff" stroke="#000" stroke-opacity="0.95" stroke-width="0.55"/>
<polygon points="292.20,178.19 293.91,181.11 290.49,181.11" fill="#00b6ff" stroke="#000" stroke-opacity="0.95" stroke-width="0.55"/>
<polygon points="294.00,179.57 295.71,182.49 292.29,182.49" fill="#00baff" stroke="#000" stroke-opacity="0.95" stroke-width="0.55"/>
<polygon points="295.80,180.32 297.51,183.24 294.09,183.24" fill="#00bfff" stroke="#000" stroke-opacity="0.95" stroke-width="0.55"/>
<polygon points="297.60,181.89 299.31,184.81 295.89,184.81" fill="#00c4ff" stroke="#000" stroke-opacity="0.95" stroke-width="0.55"/>
<polygon points="299.40,183.09 301.11,186.01 297.69,186.01" fill="#00c9ff" stroke="#000" stroke-opacity="0.95" stroke-width="0.55"/>
<polygon points="301.20,183.82 302.91,186.73 299.49,186.73" fill="#00ceff" stroke="#000" stroke-opacity="0.95" stroke-width="0.55"/>
<polygon points="303.00,185.39 304.71,188.30 301.29,188.30" fill="#00d2ff" stroke="#000" stroke-opacity="0.95" stroke-width="0.55"/>
<polygon points="304.80,186.67 306.51,189.59 303.09,189.59" fill="#00d7ff" stroke="#000" stroke-opacity="0.95" stroke-width="0.55"/>
<polygon points="306.60,188.74 308.31,191.66 304.89,191.66" fill="#00dcfe" stroke="#000" stroke-opacity="0.95" stroke-width="0.55"/>
<polygon points="308.40,189.67 310.11,192.58 306.69,192.58" fill="#00e1fb" stroke="#000" stroke-opacity="0.95" stroke-width="0.55"/>
<polygon points="310.20,191.16 311.91,194.08 308.49,194.08" fill="#00e6f7" stroke="#000" stroke-opacity="0.95" stroke-width="0.55"/>
<polygon points="312.00,192.74 313.71,195.65 310.29,195.65" fill="#04eaf3" stroke="#000" stroke-opacity="0.95" stroke-width="0.55"/>
<polygon points="313.80,194.10 315.51,197.02 312.09,197.02" fill="#08efef" stroke="#000" stroke-opacity="0.95" stroke-width="0.55"/>
<polygon points="315.60,195.16 317.31,198.07 313.89,198.07" fill="#0cf4eb" stroke="#000" stroke-opacity="0.95" stroke-width="0.55"/>
<polygon points="317.40,197.07 319.11,199.98 315.69,199.98" fill="#10f9e7" stroke="#000" stroke-opacity="0.95" stroke-width="0.55"/>
<polygon points="319.20,198.19 320.91,201.10 317.49,201.10" fill="#13fee3" stroke="#000" stroke-opacity="0.95" stroke-width="0.55"/>
<polygon points="321.00,200.43 322.71,203.35 319.29,203.35" fill="#17ffdf" stroke="#000" stroke-opacity="0.95" stroke-width="0.55"/>
<polygon points="322.80,202.50 324.51,205.41 321.09,205.41" fill="#1bffdc" stroke="#000" stroke-opacity="0.95" stroke-width="0.55"/>
<polygon points="324.60,204.55 326.31,207.46 322.89,207.46" fill="#1fffd8" stroke="#000" stroke-opacity="0.95" stroke-width="0.55"/>
<polygon points="326.40,207.00 328.11,209.92 324.69,209.92" fill="#23ffd4" stroke="#000" stroke-opacity="0.95" stroke-width="0.55"/>
<polygon points="328.20,208.66 329.91,211.58 326.49,211.58" fill="#27ffd0" stroke="#000" stroke-opacity="0.95" stroke-width="0.55"/>
<polygon points="330.00,210.22 331.71,213.14 328.29,213.14" fill="#2bffcc" stroke="#000" stroke-opacity="0.95" stroke-width="0.55"/>
<polygon points="331.80,212.00 333.51,214.91 330.09,214.91" fill="#2effc8" stroke="#000" stroke-opacity="0.95" stroke-width="0.55"/>
<polygon points="333.60,213.63 335.31,216.55 331.89,216.55" fill="#32ffc4" stroke="#000" stroke-opacity="0.95" stroke-width="0.55"/>
<polygon points="335.40,215.74 337.11,218.65 333.69,218.65" fill="#36ffc1" stroke="#000" stroke-opacity="0.95" stroke-width="0.55"/>
<polygon points="337.20,217.80 338.91,220.71 335.49,220.71" fill="#3affbd" stroke="#000" stroke-opacity="0.95" stroke-width="0.55"/>
<polygon points="339.00,220.15 340.71,223.06 337.29,223.06" fill="#3effb9" stroke="#000" stroke-opacity="0.95" stroke-width="0.55"/>
<polygon points="340.80,222.18 342.51,225.10 339.09,225.10" fill="#42ffb5" stroke="#000" stroke-opacity="0.95" stroke-width="0.55"/>
<polygon points="342.60,224.27 344.31,227.18 340.89,227.18" fill="#46ffb1" stroke="#000" stroke-opacity="0.95" stroke-width="0.55"/>
<polygon points="344.40,226.37 346.11,229.28 342.69,229.28" fill="#4affad" stroke="#000" stroke-opacity="0.95" stroke-width="0.55"/>
<polygon points="346.20,228.01 347.91,230.93 344.49,230.93" fill="#4dffa9" stroke="#000" stroke-opacity="0.95" stroke-width="0.55"/>
<polygon points="348.00,229.60 349.71,232.52 346.29,232.52" fill="#51ffa5" stroke="#000" stroke-opacity="0.95" stroke-width="0.55"/>
<polygon points="349.80,231.82 351.51,234.73 348.09,234.73" fill="#55ffa2" stroke="#000" stroke-opacity="0.95" stroke-width="0.55"/>
<polygon points="351.60,233.64 353.31,236.55 349.89,236.55" fill="#59ff9e" stroke="#000" stroke-opacity="0.95" stroke-width="0.55"/>
<polygon points="353.40,235.08 355.11,238.00 351.69,238.00" fill="#5dff9a" stroke="#000" stroke-opacity="0.95" stroke-width="0.55"/>
<polygon points="355.20,236.54 356.91,239.45 353.49,239.45" fill="#61ff96" stroke="#000" stroke-opacity="0.95" stroke-width="0.55"/>
<polygon points="357.00,236.76 358.71,239.67 355.29,239.67" fill="#65ff92" stroke="#000" stroke-opacity="0.95" stroke-width="0.55"/>
<polygon points="358.80,237.30 360.51,240.22 357.09,240.22" fill="#68ff8e" stroke="#000" stroke-opacity="0.95" stroke-width="0.55"/>
<polygon points="360.60,237.58 362.31,240.49 358.89,240.49" fill="#6cff8a" stroke="#000" stroke-opacity="0.95" stroke-width="0.55"/>
<polygon points="362.40,237.63 364.11,240.54 360.69,240.54" fill="#70ff87" stroke="#000" stroke-opacity="0.95" stroke-width="0.55"/>
<polygon points="364.20,238.01 365.91,240.92 362.49,240.92" fill="#74ff83" stroke="#000" stroke-opacity="0.95" stroke-width="0.55"/>
<polygon points="366.00,238.53 367.71,241.45 364.29,241.45" fill="#78ff7f" stroke="#000" stroke-opacity="0.95" stroke-width="0.55"/>
<polygon points="367.80,238.38 369.51,241.30 366.09,241.30" fill="#7cff7b" stroke="#000" stroke-opacity="0.95" stroke-width="0.55"/>
<polygon points="369.60,238.83 371.31,241.74 367.89,241.74" fill="#80ff77" stroke="#000" stroke-opacity="0.95" stroke-width="0.55"/>
<polygon points="371.40,239.13 373.11,242.05 369.69,242.05" fill="#84ff73" stroke="#000" stroke-opacity="0.95" stroke-width="0.55"/>
<polygon points="373.20,238.88 374.91,241.79 371.49,241.79" fill="#87ff6f" stroke="#000" stroke-opacity="0.95" stroke-width="0.55"/>
<polygon points="375.00,239.19 376.71,242.11 373.29,242.11" fill="#8bff6b" stroke="#000" stroke-opacity="0.95" stroke-width="0.55"/>
<polygon points="376.80,238.92 378.51,241.83 375.09,241.83" fill="#8fff68" stroke="#000" stroke-opacity="0.95" stroke-width="0.55"/>
<polygon points="378.60,238.78 380.31,241.70 376.89,241.70" fill="#93ff64" stroke="#000" stroke-opacity="0.95" stroke-width="0.55"/>
<polygon points="380.40,238.85 382.11,241.76 378.69,241.76" fill="#97ff60" stroke="#000" stroke-opacity="0.95" stroke-width="0.55"/>
<polygon points="382.20,238.61 383.91,241.53 380.49,241.53" fill="#9bff5c" stroke="#000" stroke-opacity="0.95" stroke-width="0.55"/>
<polygon points="384.00,238.73 385.71,241.64 382.29,241.64" fill="#9fff58" stroke="#000" stroke-opacity="0.95" stroke-width="0.55"/>
<polygon points="385.80,238.69 387.51,241.61 384.09,241.61" fill="#a2ff54" stroke="#000" stroke-opacity="0.95" stroke-width="0.55"/>
<polygon points="387.60,239.31 389.31,242.22 385.89,242.22" fill="#a6ff50" stroke="#000" stroke-opacity="0.95" stroke-width="0.55"/>
<polygon points="389.40,239.51 391.11,242.43 387.69,242.43" fill="#aaff4d" stroke="#000" stroke-opacity="0.95" stroke-width="0.55"/>
<polygon points="391.20,239.82 392.91,242.74 389.49,242.74" fill="#aeff49" stroke="#000" stroke-opacity="0.95" stroke-width="0.55"/>
<polygon points="393.00,240.54 394.71,243.45 391.29,243.45" fill="#b2ff45" stroke="#000" stroke-opacity="0.95" stroke-width="0.55"/>
<polygon points="394.80,241.49 396.51,244.40 393.09,244.40" fill="#b6ff41" stroke="#000" stroke-opacity="0.95" stroke-width="0.55"/>
<polygon points="396.60,242.15 398.31,245.07 394.89,245.07" fill="#baff3d" stroke="#000" stroke-opacity="0.95" stroke-width="0.55"/>
<polygon points="398.40,242.77 400.11,245.69 396.69,245.69" fill="#beff39" stroke="#000" stroke-opacity="0.95" stroke-width="0.55"/>
<polygon points="400.20,243.47 401.91,246.39 398.49,246.39" fill="#c1ff35" stroke="#000" stroke-opacity="0.95" stroke-width="0.55"/>
<polygon points="402.00,244.03 403.71,246.94 400.29,246.94" fill="#c5ff32" stroke="#000" stroke-opacity="0.95" stroke-width="0.55"/>
<polygon points="403.80,244.93 405.51,247.84 402.09,247.84" fill="#c9ff2e" stroke="#000" stroke-opacity="0.95" stroke-width="0.55"/>
<polygon points="405.60,244.95 407.31,247.86 403.89,247.86" fill="#cdff2a" stroke="#000" stroke-opacity="0.95" stroke-width="0.55"/>
<polygon points="407.40,245.64 409.11,248.55 405.69,248.55" fill="#d1ff26" stroke="#000" stroke-opacity="0.95" stroke-width="0.55"/>
<polygon points="409.20,245.75 410.91,248.67 407.49,248.67" fill="#d5ff22" stroke="#000" stroke-opacity="0.95" stroke-width="0.55"/>
<polygon points="411.00,245.36 412.71,248.28 409.29,248.28" fill="#d9ff1e" stroke="#000" stroke-opacity="0.95" stroke-width="0.55"/>
<polygon points="412.80,245.30 414.51,248.22 411.09,248.22" fill="#dcff1a" stroke="#000" stroke-opacity="0.95" stroke-width="0.55"/>
<polygon points="414.60,245.07 416.31,247.99 412.89,247.99" fill="#e0ff16" stroke="#000" stroke-opacity="0.95" stroke-width="0.55"/>
<polygon points="416.40,244.40 418.11,247.32 414.69,247.32" fill="#e4ff13" stroke="#000" stroke-opacity="0.95" stroke-width="0.55"/>
<polygon points="418.20,243.67 419.91,246.59 416.49,246.59" fill="#e8ff0f" stroke="#000" stroke-opacity="0.95" stroke-width="0.55"/>
<polygon points="420.00,242.80 421.71,245.71 418.29,245.71" fill="#ecff0b" stroke="#000" stroke-opacity="0.95" stroke-width="0.55"/>
<polygon points="421.80,241.47 423.51,244.38 420.09,244.38" fill="#f0fe07" stroke="#000" stroke-opacity="0.95" stroke-width="0.55"/>
<polygon points="423.60,240.86 425.31,243.78 421.89,243.78" fill="#f4f903" stroke="#000" stroke-opacity="0.95" stroke-width="0.55"/>
<polygon points="425.40,240.53 427.11,243.45 423.69,243.45" fill="#f8f500" stroke="#000" stroke-opacity="0.95" stroke-width="0.55"/>
<polygon points="427.20,240.06 428.91,242.98 425.49,242.98" fill="#fbf000" stroke="#000" stroke-opacity="0.95" stroke-width="0.55"/>
<polygon points="429.00,239.78 430.71,242.70 427.29,242.70" fill="#ffec00" stroke="#000" stroke-opacity="0.95" stroke-width="0.55"/>
<polygon points="430.80,239.25 432.51,242.17 429.09,242.17" fill="#ffe700" stroke="#000" stroke-opacity="0.95" stroke-width="0.55"/>
<polygon points="432.60,239.37 434.31,242.29 430.89,242.29" fill="#ffe300" stroke="#000" stroke-opacity="0.95" stroke-width="0.55"/>
<polygon points="434.40,239.33 436.11,242.25 432.69,242.25" fill="#ffde00" stroke="#000" stroke-opacity="0.95" stroke-width="0.55"/>
<polygon points="436.20,239.12 437.91,242.04 434.49,242.04" fill="#ffda00" stroke="#000" stroke-opacity="0.95" stroke-width="0.55"/>
<polygon points="438.00,238.89 439.71,241.81 436.29,241.81" fill="#ffd600" stroke="#000" stroke-opacity="0.95" stroke-width="0.55"/>
<polygon points="439.80,238.63 441.51,241.55 438.09,241.55" fill="#ffd100" stroke="#000" stroke-opacity="0.95" stroke-width="0.55"/>
<polygon points="441.60,238.41 443.31,241.32 439.89,241.32" fill="#ffcd00" stroke="#000" stroke-opacity="0.95" stroke-width="0.55"/>
<polygon points="443.40,237.61 445.11,240.53 441.69,240.53" fill="#ffc800" stroke="#000" stroke-opacity="0.95" stroke-width="0.55"/>
<polygon points="445.20,237.55 446.91,240.47 443.49,240.47" fill="#ffc400" stroke="#000" stroke-opacity="0.95" stroke-width="0.55"/>
<polygon points="447.00,236.41 448.71,239.33 445.29,239.33" fill="#ffbf00" stroke="#000" stroke-opacity="0.95" stroke-width="0.55"/>
<polygon points="448.80,235.69 450.51,238.61 447.09,238.61" fill="#ffbb00" stroke="#000" stroke-opacity="0.95" stroke-width="0.55"/>
<polygon points="450.60,235.11 452.31,238.03 448.89,238.03" fill="#ffb700" stroke="#000" stroke-opacity="0.95" stroke-width="0.55"/>
<polygon points="452.40,234.91 454.11,237.83 450.69,237.83" fill="#ffb200" stroke="#000" stroke-opacity="0.95" stroke-width="0.55"/>
<polygon points="454.20,234.21 455.91,237.12 452.49,237.12" fill="#ffae00" stroke="#000" stroke-opacity="0.95" stroke-width="0.55"/>
<polygon points="456.00,233.56 457.71,236.48 454.29,236.48" fill="#ffa900" stroke="#000" stroke-opacity="0.95" stroke-width="0.55"/>
<polygon points="457.80,233.08 459.51,236.00 456.09,236.00" fill="#ffa500" stroke="#000" stroke-opacity="0.95" stroke-width="0.55"/>
<polygon points="459.60,233.21 461.31,236.13 457.89,236.13" fill="#ffa000" stroke="#000" stroke-opacity="0.95" stroke-width="0.55"/>
<polygon points="461.40,233.01 463.11,235.93 459.69,235.93" fill="#ff9c00" stroke="#000" stroke-opacity="0.95" stroke-width="0.55"/>
<polygon points="463.20,232.45 464.91,235.37 461.49,235.37" fill="#ff9700" stroke="#000" stroke-opacity="0.95" stroke-width="0.55"/>
<polygon points="465.00,232.65 466.71,235.57 463.29,235.57" fill="#ff9300" stroke="#000" stroke-opacity="0.95" stroke-width="0.55"/>
<polygon points="466.80,233.08 468.51,236.00 465.09,236.00" fill="#ff8f00" stroke="#000" stroke-opacity="0.95" stroke-width="0.55"/>
<polygon points="468.60,233.35 470.31,236.27 466.89,236.27" fill="#ff8a00" stroke="#000" stroke-opacity="0.95" stroke-width="0.55"/>
<polygon points="470.40,234.04 472.11,236.96 468.69,236.96" fill="#ff8600" stroke="#000" stroke-opacity="0.95" stroke-width="0.55"/>
<polygon points="472.20,234.77 473.91,237.69 470.49,237.69" fill="#ff8100" stroke="#000" stroke-opacity="0.95" stroke-width="0.55"/>
<polygon points="474.00,235.91 475.71,238.83 472.29,238.83" fill="#ff7d00" stroke="#000" stroke-opacity="0.95" stroke-width="0.55"/>
<polygon points="475.80,237.06 477.51,239.97 474.09,239.97" fill="#ff7800" stroke="#000" stroke-opacity="0.95" stroke-width="0.55"/>
<polygon points="477.60,238.15 479.31,241.07 475.89,241.07" fill="#ff7400" stroke="#000" stroke-opacity="0.95" stroke-width="0.55"/>
<polygon points="479.40,238.87 481.11,241.79 477.69,241.79" fill="#ff7000" stroke="#000" stroke-opacity="0.95" stroke-width="0.55"/>
<polygon points="481.20,240.72 482.91,243.64 479.49,243.64" fill="#ff6b00" stroke="#000" stroke-opacity="0.95" stroke-width="0.55"/>
<polygon points="483.00,242.95 484.71,245.86 481.29,245.86" fill="#ff6700" stroke="#000" stroke-opacity="0.95" stroke-width="0.55"/>
<line x1="266.0" y1="150.4" x2="266.0" y2="250.2" stroke="#c4c4c4" stroke-width="2"/>
<line x1="494.5" y1="150.4" x2="494.5" y2="250.2" stroke="#666" stroke-width="1"/>
<line x1="265.0" y1="150.4" x2="495.0" y2="150.4" stroke="#666" stroke-width="1.0"/>
<line x1="265.0" y1="250.2" x2="495.0" y2="250.2" stroke="#c8c8c8" stroke-width="1.6"/>
<line x1="264.2" y1="250.20" x2="266.0" y2="250.20" stroke="#444" stroke-width="0.6"/>
<text x="262.8" y="252.10" font-size="5.4" fill="#222" text-anchor="end">−2</text>
<line x1="264.2" y1="237.72" x2="266.0" y2="237.72" stroke="#444" stroke-width="0.6"/>
<text x="262.8" y="239.62" font-size="5.4" fill="#222" text-anchor="end">−1</text>
<line x1="264.2" y1="225.25" x2="266.0" y2="225.25" stroke="#444" stroke-width="0.6"/>
<text x="262.8" y="227.15" font-size="5.4" fill="#222" text-anchor="end">0</text>
<line x1="264.2" y1="212.77" x2="266.0" y2="212.77" stroke="#444" stroke-width="0.6"/>
<text x="262.8" y="214.67" font-size="5.4" fill="#222" text-anchor="end">1</text>
<line x1="264.2" y1="200.30" x2="266.0" y2="200.30" stroke="#444" stroke-width="0.6"/>
<text x="262.8" y="202.20" font-size="5.4" fill="#222" text-anchor="end">2</text>
<line x1="264.2" y1="187.82" x2="266.0" y2="187.82" stroke="#444" stroke-width="0.6"/>
<text x="262.8" y="189.72" font-size="5.4" fill="#222" text-anchor="end">3</text>
<line x1="264.2" y1="175.35" x2="266.0" y2="175.35" stroke="#444" stroke-width="0.6"/>
<text x="262.8" y="177.25" font-size="5.4" fill="#222" text-anchor="end">4</text>
<line x1="264.2" y1="162.88" x2="266.0" y2="162.88" stroke="#444" stroke-width="0.6"/>
<text x="262.8" y="164.78" font-size="5.4" fill="#222" text-anchor="end">5</text>
<line x1="264.2" y1="150.40" x2="266.0" y2="150.40" stroke="#444" stroke-width="0.6"/>
<text x="262.8" y="152.30" font-size="5.4" fill="#222" text-anchor="end">6</text>
<line x1="278.23" y1="250.2" x2="278.23" y2="251.2" stroke="#444" stroke-width="0.5"/>
<line x1="291.00" y1="250.2" x2="291.00" y2="251.2" stroke="#444" stroke-width="0.5"/>
<line x1="303.77" y1="250.2" x2="303.77" y2="251.2" stroke="#444" stroke-width="0.5"/>
<line x1="316.53" y1="250.2" x2="316.53" y2="251.2" stroke="#444" stroke-width="0.5"/>
<line x1="329.30" y1="250.2" x2="329.30" y2="252.0" stroke="#444" stroke-width="0.6"/>
<text x="329.30" y="256.8" font-size="5.4" fill="#222" text-anchor="middle">16/02</text>
<line x1="342.07" y1="250.2" x2="342.07" y2="251.2" stroke="#444" stroke-width="0.5"/>
<line x1="354.83" y1="250.2" x2="354.83" y2="251.2" stroke="#444" stroke-width="0.5"/>
<line x1="367.60" y1="250.2" x2="367.60" y2="251.2" stroke="#444" stroke-width="0.5"/>
<line x1="380.37" y1="250.2" x2="380.37" y2="251.2" stroke="#444" stroke-width="0.5"/>
<line x1="393.13" y1="250.2" x2="393.13" y2="251.2" stroke="#444" stroke-width="0.5"/>
<line x1="405.90" y1="250.2" x2="405.90" y2="252.0" stroke="#444" stroke-width="0.6"/>
<text x="405.90" y="256.8" font-size="5.4" fill="#222" text-anchor="middle">17/02</text>
<line x1="418.67" y1="250.2" x2="418.67" y2="251.2" stroke="#444" stroke-width="0.5"/>
<line x1="431.43" y1="250.2" x2="431.43" y2="251.2" stroke="#444" stroke-width="0.5"/>
<line x1="444.20" y1="250.2" x2="444.20" y2="251.2" stroke="#444" stroke-width="0.5"/>
<line x1="456.97" y1="250.2" x2="456.97" y2="251.2" stroke="#444" stroke-width="0.5"/>
<line x1="469.73" y1="250.2" x2="469.73" y2="251.2" stroke="#444" stroke-width="0.5"/>
<line x1="482.50" y1="250.2" x2="482.50" y2="252.0" stroke="#444" stroke-width="0.6"/>
<text x="482.50" y="256.8" font-size="5.4" fill="#222" text-anchor="middle">18/02</text>
<text transform="translate(251.6,200.3) rotate(-90)" font-size="7.8" font-style="italic" fill="#111" text-anchor="middle">Q<tspan font-size="5.0" dy="1.9">Sv</tspan></text>
<rect x="455.6" y="153.6" width="36.80" height="15.80" fill="#fff" fill-opacity="0.8" stroke="#d8d8d8" stroke-width="0.6" rx="0.8"/>
<circle cx="462.0" cy="157.6" r="1.45" fill="none" stroke="#333" stroke-width="0.5"/>
<polygon points="462.0,163.4 463.5,166.0 460.5,166.0" fill="none" stroke="#333" stroke-width="0.5"/>
<text x="471.0" y="158.90" font-size="5.5" fill="#1a1a1a">from S<tspan font-size="4.0" dy="1.0">v</tspan></text>
<text x="471.0" y="166.30" font-size="5.5" fill="#1a1a1a">from b<tspan font-size="4.0" dy="1.0">bp</tspan></text>
</svg>
</div></body></html>
